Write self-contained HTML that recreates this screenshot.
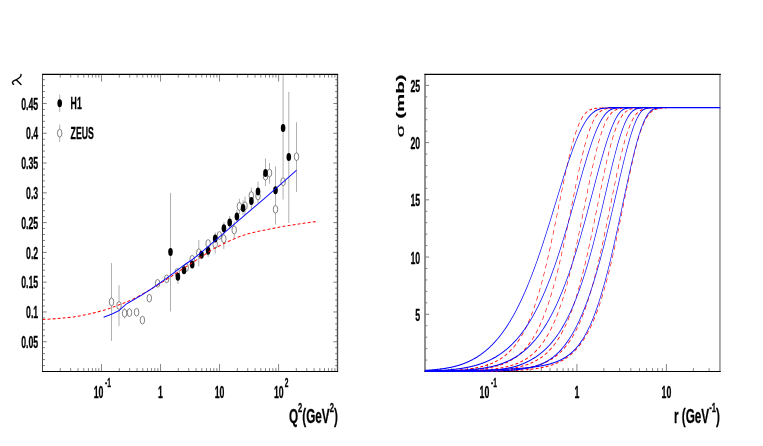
<!DOCTYPE html>
<html><head><meta charset="utf-8"><title>Chart</title>
<style>
html,body{margin:0;padding:0;background:#fff;}
body{width:763px;height:446px;overflow:hidden;}
svg{display:block;will-change:transform;}
text{font-family:"Liberation Sans",sans-serif;fill:#000;stroke:#000;stroke-width:0.3;}
.ty{stroke:#707070;stroke-width:0.9;fill:none;}
.tx{stroke:#333;stroke-width:0.6;fill:none;}
.fr{stroke:#000;stroke-width:1.2;fill:none;}
.eb{stroke:#b0b0b0;stroke-width:1;fill:none;}
.rd{stroke:#ff0000;stroke-width:1.05;fill:none;stroke-dasharray:5.1 3.9;}
.bl{stroke:#0000ff;stroke-width:1.1;fill:none;}
.op{stroke:#333;stroke-width:0.6;fill:#fff;}
.fl{fill:#000;stroke:none;}
</style></head>
<body>
<svg width="763" height="446" viewBox="0 0 763 446">
<rect width="763" height="446" fill="#fff"/>
<g><path d="M42.50 365.54h2.4M337.60 365.54h-2.4" class="ty"/>
<path d="M42.50 359.59h2.4M337.60 359.59h-2.4" class="ty"/>
<path d="M42.50 353.63h2.4M337.60 353.63h-2.4" class="ty"/>
<path d="M42.50 347.68h2.4M337.60 347.68h-2.4" class="ty"/>
<path d="M42.50 341.72h4.2M337.60 341.72h-4.2" class="ty"/>
<path d="M42.50 335.76h2.4M337.60 335.76h-2.4" class="ty"/>
<path d="M42.50 329.81h2.4M337.60 329.81h-2.4" class="ty"/>
<path d="M42.50 323.85h2.4M337.60 323.85h-2.4" class="ty"/>
<path d="M42.50 317.90h2.4M337.60 317.90h-2.4" class="ty"/>
<path d="M42.50 311.94h4.2M337.60 311.94h-4.2" class="ty"/>
<path d="M42.50 305.98h2.4M337.60 305.98h-2.4" class="ty"/>
<path d="M42.50 300.03h2.4M337.60 300.03h-2.4" class="ty"/>
<path d="M42.50 294.07h2.4M337.60 294.07h-2.4" class="ty"/>
<path d="M42.50 288.12h2.4M337.60 288.12h-2.4" class="ty"/>
<path d="M42.50 282.16h4.2M337.60 282.16h-4.2" class="ty"/>
<path d="M42.50 276.20h2.4M337.60 276.20h-2.4" class="ty"/>
<path d="M42.50 270.25h2.4M337.60 270.25h-2.4" class="ty"/>
<path d="M42.50 264.29h2.4M337.60 264.29h-2.4" class="ty"/>
<path d="M42.50 258.34h2.4M337.60 258.34h-2.4" class="ty"/>
<path d="M42.50 252.38h4.2M337.60 252.38h-4.2" class="ty"/>
<path d="M42.50 246.42h2.4M337.60 246.42h-2.4" class="ty"/>
<path d="M42.50 240.47h2.4M337.60 240.47h-2.4" class="ty"/>
<path d="M42.50 234.51h2.4M337.60 234.51h-2.4" class="ty"/>
<path d="M42.50 228.56h2.4M337.60 228.56h-2.4" class="ty"/>
<path d="M42.50 222.60h4.2M337.60 222.60h-4.2" class="ty"/>
<path d="M42.50 216.64h2.4M337.60 216.64h-2.4" class="ty"/>
<path d="M42.50 210.69h2.4M337.60 210.69h-2.4" class="ty"/>
<path d="M42.50 204.73h2.4M337.60 204.73h-2.4" class="ty"/>
<path d="M42.50 198.78h2.4M337.60 198.78h-2.4" class="ty"/>
<path d="M42.50 192.82h4.2M337.60 192.82h-4.2" class="ty"/>
<path d="M42.50 186.86h2.4M337.60 186.86h-2.4" class="ty"/>
<path d="M42.50 180.91h2.4M337.60 180.91h-2.4" class="ty"/>
<path d="M42.50 174.95h2.4M337.60 174.95h-2.4" class="ty"/>
<path d="M42.50 169.00h2.4M337.60 169.00h-2.4" class="ty"/>
<path d="M42.50 163.04h4.2M337.60 163.04h-4.2" class="ty"/>
<path d="M42.50 157.08h2.4M337.60 157.08h-2.4" class="ty"/>
<path d="M42.50 151.13h2.4M337.60 151.13h-2.4" class="ty"/>
<path d="M42.50 145.17h2.4M337.60 145.17h-2.4" class="ty"/>
<path d="M42.50 139.22h2.4M337.60 139.22h-2.4" class="ty"/>
<path d="M42.50 133.26h4.2M337.60 133.26h-4.2" class="ty"/>
<path d="M42.50 127.30h2.4M337.60 127.30h-2.4" class="ty"/>
<path d="M42.50 121.35h2.4M337.60 121.35h-2.4" class="ty"/>
<path d="M42.50 115.39h2.4M337.60 115.39h-2.4" class="ty"/>
<path d="M42.50 109.44h2.4M337.60 109.44h-2.4" class="ty"/>
<path d="M42.50 103.48h4.2M337.60 103.48h-4.2" class="ty"/>
<path d="M42.50 97.52h2.4M337.60 97.52h-2.4" class="ty"/>
<path d="M42.50 91.57h2.4M337.60 91.57h-2.4" class="ty"/>
<path d="M42.50 85.61h2.4M337.60 85.61h-2.4" class="ty"/>
<path d="M42.50 79.66h2.4M337.60 79.66h-2.4" class="ty"/>
<path d="M60.27 371.50v-3.4M60.27 74.20v3.4" class="tx"/>
<path d="M70.66 371.50v-3.4M70.66 74.20v3.4" class="tx"/>
<path d="M78.03 371.50v-3.4M78.03 74.20v3.4" class="tx"/>
<path d="M83.75 371.50v-3.4M83.75 74.20v3.4" class="tx"/>
<path d="M88.43 371.50v-3.4M88.43 74.20v3.4" class="tx"/>
<path d="M92.38 371.50v-3.4M92.38 74.20v3.4" class="tx"/>
<path d="M95.80 371.50v-3.4M95.80 74.20v3.4" class="tx"/>
<path d="M98.82 371.50v-3.4M98.82 74.20v3.4" class="tx"/>
<path d="M101.52 371.50v-7.4M101.52 74.20v7.4" class="tx"/>
<path d="M119.29 371.50v-3.4M119.29 74.20v3.4" class="tx"/>
<path d="M129.68 371.50v-3.4M129.68 74.20v3.4" class="tx"/>
<path d="M137.05 371.50v-3.4M137.05 74.20v3.4" class="tx"/>
<path d="M142.77 371.50v-3.4M142.77 74.20v3.4" class="tx"/>
<path d="M147.45 371.50v-3.4M147.45 74.20v3.4" class="tx"/>
<path d="M151.40 371.50v-3.4M151.40 74.20v3.4" class="tx"/>
<path d="M154.82 371.50v-3.4M154.82 74.20v3.4" class="tx"/>
<path d="M157.84 371.50v-3.4M157.84 74.20v3.4" class="tx"/>
<path d="M160.54 371.50v-7.4M160.54 74.20v7.4" class="tx"/>
<path d="M178.31 371.50v-3.4M178.31 74.20v3.4" class="tx"/>
<path d="M188.70 371.50v-3.4M188.70 74.20v3.4" class="tx"/>
<path d="M196.07 371.50v-3.4M196.07 74.20v3.4" class="tx"/>
<path d="M201.79 371.50v-3.4M201.79 74.20v3.4" class="tx"/>
<path d="M206.47 371.50v-3.4M206.47 74.20v3.4" class="tx"/>
<path d="M210.42 371.50v-3.4M210.42 74.20v3.4" class="tx"/>
<path d="M213.84 371.50v-3.4M213.84 74.20v3.4" class="tx"/>
<path d="M216.86 371.50v-3.4M216.86 74.20v3.4" class="tx"/>
<path d="M219.56 371.50v-7.4M219.56 74.20v7.4" class="tx"/>
<path d="M237.33 371.50v-3.4M237.33 74.20v3.4" class="tx"/>
<path d="M247.72 371.50v-3.4M247.72 74.20v3.4" class="tx"/>
<path d="M255.09 371.50v-3.4M255.09 74.20v3.4" class="tx"/>
<path d="M260.81 371.50v-3.4M260.81 74.20v3.4" class="tx"/>
<path d="M265.49 371.50v-3.4M265.49 74.20v3.4" class="tx"/>
<path d="M269.44 371.50v-3.4M269.44 74.20v3.4" class="tx"/>
<path d="M272.86 371.50v-3.4M272.86 74.20v3.4" class="tx"/>
<path d="M275.88 371.50v-3.4M275.88 74.20v3.4" class="tx"/>
<path d="M278.58 371.50v-7.4M278.58 74.20v7.4" class="tx"/>
<path d="M296.35 371.50v-3.4M296.35 74.20v3.4" class="tx"/>
<path d="M306.74 371.50v-3.4M306.74 74.20v3.4" class="tx"/>
<path d="M314.11 371.50v-3.4M314.11 74.20v3.4" class="tx"/>
<path d="M319.83 371.50v-3.4M319.83 74.20v3.4" class="tx"/>
<path d="M324.51 371.50v-3.4M324.51 74.20v3.4" class="tx"/>
<path d="M328.46 371.50v-3.4M328.46 74.20v3.4" class="tx"/>
<path d="M331.88 371.50v-3.4M331.88 74.20v3.4" class="tx"/>
<path d="M334.90 371.50v-3.4M334.90 74.20v3.4" class="tx"/>
<text transform="translate(38.20,347.92) scale(0.53,1)" font-size="16.5" font-weight="bold" text-anchor="end" >0.05</text>
<text transform="translate(38.20,318.14) scale(0.53,1)" font-size="16.5" font-weight="bold" text-anchor="end" >0.1</text>
<text transform="translate(38.20,288.36) scale(0.53,1)" font-size="16.5" font-weight="bold" text-anchor="end" >0.15</text>
<text transform="translate(38.20,258.58) scale(0.53,1)" font-size="16.5" font-weight="bold" text-anchor="end" >0.2</text>
<text transform="translate(38.20,228.80) scale(0.53,1)" font-size="16.5" font-weight="bold" text-anchor="end" >0.25</text>
<text transform="translate(38.20,199.02) scale(0.53,1)" font-size="16.5" font-weight="bold" text-anchor="end" >0.3</text>
<text transform="translate(38.20,169.24) scale(0.53,1)" font-size="16.5" font-weight="bold" text-anchor="end" >0.35</text>
<text transform="translate(38.20,139.46) scale(0.53,1)" font-size="16.5" font-weight="bold" text-anchor="end" >0.4</text>
<text transform="translate(38.20,109.68) scale(0.53,1)" font-size="16.5" font-weight="bold" text-anchor="end" >0.45</text>
<text transform="translate(98.52,398.40) scale(0.53,1)" font-size="16.5" font-weight="bold" text-anchor="middle" >10</text><text transform="translate(105.12,387.40) scale(0.53,1)" font-size="12.5" font-weight="bold" text-anchor="start" >-1</text>
<text transform="translate(160.54,398.20) scale(0.53,1)" font-size="16.5" font-weight="bold" text-anchor="middle" >1</text>
<text transform="translate(219.56,398.20) scale(0.53,1)" font-size="16.5" font-weight="bold" text-anchor="middle" >10</text>
<text transform="translate(278.78,398.40) scale(0.53,1)" font-size="16.5" font-weight="bold" text-anchor="middle" >10</text><text transform="translate(284.78,387.40) scale(0.53,1)" font-size="12.5" font-weight="bold" text-anchor="start" >2</text>
<text transform="translate(337.8,422.8) scale(0.56,1)" font-size="21" font-weight="bold" text-anchor="end">Q<tspan dy="-11" font-size="13.5">2</tspan><tspan dy="11">(GeV</tspan><tspan dy="-11" font-size="13.5">2</tspan><tspan dy="11">)</tspan></text>
<path d="M13.7 84.3C12.3 83.6 12.1 82.1 13.2 81.2C14.8 80.0 17.0 79.6 18.7 78.3C20.3 77.1 21.4 75.9 21.0 74.5M16.5 79.9L21.0 84.4" stroke="#000" stroke-width="1.4" fill="none" stroke-linecap="round"/>
<path d="M111.50 263.10V340.90" class="eb"/>
<path d="M119.00 285.30V326.10" class="eb"/>
<path d="M124.60 308.00V318.50" class="eb"/>
<path d="M198.80 240.10V266.30" class="eb"/>
<path d="M215.20 237.00V253.50" class="eb"/>
<path d="M223.80 229.00V249.00" class="eb"/>
<path d="M234.20 221.60V238.50" class="eb"/>
<path d="M239.40 198.80V214.00" class="eb"/>
<path d="M245.00 196.50V215.00" class="eb"/>
<path d="M251.30 187.80V203.00" class="eb"/>
<path d="M269.50 163.00V183.50" class="eb"/>
<path d="M296.50 122.30V192.00" class="eb"/>
<path d="M59.70 124.50V142.00" class="eb"/>
<path d="M170.50 192.90V311.50" class="eb"/>
<path d="M177.90 270.00V284.00" class="eb"/>
<path d="M208.10 245.00V257.00" class="eb"/>
<path d="M215.20 232.50V244.50" class="eb"/>
<path d="M223.90 222.00V234.50" class="eb"/>
<path d="M229.70 216.00V229.00" class="eb"/>
<path d="M236.90 210.00V222.50" class="eb"/>
<path d="M243.10 200.40V215.30" class="eb"/>
<path d="M251.40 195.00V209.00" class="eb"/>
<path d="M258.00 181.60V203.50" class="eb"/>
<path d="M265.50 158.50V186.00" class="eb"/>
<path d="M275.50 166.50V224.50" class="eb"/>
<path d="M283.10 74.50V199.60" class="eb"/>
<path d="M288.80 91.80V222.90" class="eb"/>
<path d="M59.70 94.50V112.00" class="eb"/>
<ellipse cx="111.50" cy="301.90" rx="2.25" ry="3.9" class="op"/>
<ellipse cx="119.00" cy="305.50" rx="2.25" ry="3.9" class="op"/>
<ellipse cx="124.60" cy="313.20" rx="2.25" ry="3.9" class="op"/>
<ellipse cx="129.50" cy="312.60" rx="2.25" ry="3.9" class="op"/>
<ellipse cx="136.60" cy="312.20" rx="2.25" ry="3.9" class="op"/>
<ellipse cx="142.40" cy="320.10" rx="2.25" ry="3.9" class="op"/>
<ellipse cx="149.30" cy="298.20" rx="2.25" ry="3.9" class="op"/>
<ellipse cx="157.60" cy="283.30" rx="2.25" ry="3.9" class="op"/>
<ellipse cx="166.70" cy="278.80" rx="2.25" ry="3.9" class="op"/>
<ellipse cx="177.20" cy="272.40" rx="2.25" ry="3.9" class="op"/>
<ellipse cx="186.20" cy="267.70" rx="2.25" ry="3.9" class="op"/>
<ellipse cx="192.20" cy="259.30" rx="2.25" ry="3.9" class="op"/>
<ellipse cx="198.80" cy="252.80" rx="2.25" ry="3.9" class="op"/>
<ellipse cx="208.10" cy="243.50" rx="2.25" ry="3.9" class="op"/>
<ellipse cx="215.20" cy="244.40" rx="2.25" ry="3.9" class="op"/>
<ellipse cx="219.40" cy="235.50" rx="2.25" ry="3.9" class="op"/>
<ellipse cx="223.80" cy="238.90" rx="2.25" ry="3.9" class="op"/>
<ellipse cx="234.20" cy="230.00" rx="2.25" ry="3.9" class="op"/>
<ellipse cx="239.40" cy="206.40" rx="2.25" ry="3.9" class="op"/>
<ellipse cx="245.00" cy="205.80" rx="2.25" ry="3.9" class="op"/>
<ellipse cx="251.30" cy="195.60" rx="2.25" ry="3.9" class="op"/>
<ellipse cx="258.00" cy="196.00" rx="2.25" ry="3.9" class="op"/>
<ellipse cx="265.50" cy="176.20" rx="2.25" ry="3.9" class="op"/>
<ellipse cx="269.50" cy="173.00" rx="2.25" ry="3.9" class="op"/>
<ellipse cx="275.50" cy="209.30" rx="2.25" ry="3.9" class="op"/>
<ellipse cx="283.10" cy="181.70" rx="2.25" ry="3.9" class="op"/>
<ellipse cx="296.50" cy="156.70" rx="2.25" ry="3.9" class="op"/>
<ellipse cx="59.70" cy="133.20" rx="2.25" ry="3.9" class="op"/>
<ellipse cx="170.50" cy="252.10" rx="2.3" ry="4.0" class="fl"/>
<ellipse cx="177.90" cy="276.80" rx="2.3" ry="4.0" class="fl"/>
<ellipse cx="184.00" cy="270.20" rx="2.3" ry="4.0" class="fl"/>
<ellipse cx="192.20" cy="264.60" rx="2.3" ry="4.0" class="fl"/>
<ellipse cx="201.50" cy="254.80" rx="2.3" ry="4.0" class="fl"/>
<ellipse cx="208.10" cy="250.70" rx="2.3" ry="4.0" class="fl"/>
<ellipse cx="215.20" cy="238.50" rx="2.3" ry="4.0" class="fl"/>
<ellipse cx="223.90" cy="228.30" rx="2.3" ry="4.0" class="fl"/>
<ellipse cx="229.70" cy="222.40" rx="2.3" ry="4.0" class="fl"/>
<ellipse cx="236.90" cy="216.40" rx="2.3" ry="4.0" class="fl"/>
<ellipse cx="243.10" cy="208.10" rx="2.3" ry="4.0" class="fl"/>
<ellipse cx="251.40" cy="200.90" rx="2.3" ry="4.0" class="fl"/>
<ellipse cx="258.00" cy="191.60" rx="2.3" ry="4.0" class="fl"/>
<ellipse cx="265.50" cy="173.00" rx="2.3" ry="4.0" class="fl"/>
<ellipse cx="275.50" cy="190.30" rx="2.3" ry="4.0" class="fl"/>
<ellipse cx="283.10" cy="128.00" rx="2.3" ry="4.0" class="fl"/>
<ellipse cx="288.80" cy="156.90" rx="2.3" ry="4.0" class="fl"/>
<ellipse cx="59.70" cy="103.20" rx="2.3" ry="4.0" class="fl"/>
<g transform="scale(0.56,1)"><path d="M76.07 319.50 C80.65 319.33 94.40 318.93 103.57 318.50 C112.74 318.07 121.55 317.68 131.07 316.90 C140.60 316.12 151.16 315.00 160.71 313.80 C170.27 312.60 180.06 311.13 188.39 309.70 C196.73 308.27 202.92 306.85 210.71 305.20 C218.51 303.55 225.65 302.38 235.18 299.80 C244.70 297.22 257.44 293.12 267.86 289.70 C278.27 286.28 288.75 282.48 297.68 279.30 C306.61 276.12 313.01 273.65 321.43 270.60 C329.85 267.55 340.77 263.68 348.21 261.00 C355.65 258.32 361.01 256.38 366.07 254.50 C371.13 252.62 374.35 251.13 378.57 249.70 C382.80 248.27 384.17 247.88 391.43 245.90 C398.69 243.92 412.98 239.90 422.14 237.80 C431.31 235.70 437.92 234.60 446.43 233.30 C454.94 232.00 464.29 231.05 473.21 230.00 C482.14 228.95 489.58 228.03 500.00 227.00 C510.42 225.97 524.70 224.73 535.71 223.80 C546.73 222.87 561.01 221.80 566.07 221.40" class="rd"/>
<path d="M185.00 317.30 L200.00 314.00 L212.86 310.60 L225.54 304.10" class="bl"/>
<path d="M225.54 304.10 C229.61 302.75 242.80 298.42 250.00 296.00 C257.20 293.58 263.42 291.55 268.75 289.60 C274.08 287.65 277.08 286.23 281.96 284.30 C286.85 282.37 292.02 280.45 298.04 278.00 C304.05 275.55 312.68 271.83 318.04 269.60 C323.39 267.37 325.83 266.32 330.18 264.60 C334.52 262.88 339.61 261.17 344.11 259.30 C348.60 257.43 353.48 255.08 357.14 253.40 C360.80 251.72 346.73 258.43 366.07 249.20 C385.42 239.97 445.98 211.15 473.21 198.00 C500.45 184.85 520.09 174.92 529.46 170.30" class="bl"/></g>
<text transform="translate(70.60,109.20) scale(0.53,1)" font-size="16.5" font-weight="bold" text-anchor="start" >H1</text>
<text transform="translate(70.60,139.20) scale(0.53,1)" font-size="16.5" font-weight="bold" text-anchor="start" >ZEUS</text>
<path d="M42.50 74.20V371.50" stroke="#333" stroke-width="0.9"/><path d="M337.50 74.20V371.50" stroke="#4a4a4a" stroke-width="1.35"/><path d="M42.00 74.45H338.10M42.00 371.50H338.10" class="fr"/>
<path d="M424.90 360.06h2.4" class="ty"/>
<path d="M424.90 348.61h2.4" class="ty"/>
<path d="M424.90 337.17h2.4" class="ty"/>
<path d="M424.90 325.72h2.4" class="ty"/>
<path d="M424.90 314.28h4.2" class="ty"/>
<path d="M424.90 302.84h2.4" class="ty"/>
<path d="M424.90 291.39h2.4" class="ty"/>
<path d="M424.90 279.95h2.4" class="ty"/>
<path d="M424.90 268.50h2.4" class="ty"/>
<path d="M424.90 257.06h4.2" class="ty"/>
<path d="M424.90 245.62h2.4" class="ty"/>
<path d="M424.90 234.17h2.4" class="ty"/>
<path d="M424.90 222.73h2.4" class="ty"/>
<path d="M424.90 211.28h2.4" class="ty"/>
<path d="M424.90 199.84h4.2" class="ty"/>
<path d="M424.90 188.40h2.4" class="ty"/>
<path d="M424.90 176.95h2.4" class="ty"/>
<path d="M424.90 165.51h2.4" class="ty"/>
<path d="M424.90 154.06h2.4" class="ty"/>
<path d="M424.90 142.62h4.2" class="ty"/>
<path d="M424.90 131.18h2.4" class="ty"/>
<path d="M424.90 119.73h2.4" class="ty"/>
<path d="M424.90 108.29h2.4" class="ty"/>
<path d="M424.90 96.84h2.4" class="ty"/>
<path d="M424.90 85.40h4.2" class="ty"/>
<path d="M440.66 371.50v-3.4" class="tx"/>
<path d="M451.84 371.50v-3.4" class="tx"/>
<path d="M460.51 371.50v-3.4" class="tx"/>
<path d="M467.60 371.50v-3.4" class="tx"/>
<path d="M473.59 371.50v-3.4" class="tx"/>
<path d="M478.78 371.50v-3.4" class="tx"/>
<path d="M483.35 371.50v-3.4" class="tx"/>
<path d="M487.45 371.50v-7.4" class="tx"/>
<path d="M514.39 371.50v-3.4" class="tx"/>
<path d="M530.15 371.50v-3.4" class="tx"/>
<path d="M541.33 371.50v-3.4" class="tx"/>
<path d="M550.00 371.50v-3.4" class="tx"/>
<path d="M557.08 371.50v-3.4" class="tx"/>
<path d="M563.07 371.50v-3.4" class="tx"/>
<path d="M568.26 371.50v-3.4" class="tx"/>
<path d="M572.84 371.50v-3.4" class="tx"/>
<path d="M576.94 371.50v-7.4" class="tx"/>
<path d="M603.87 371.50v-3.4" class="tx"/>
<path d="M619.63 371.50v-3.4" class="tx"/>
<path d="M630.81 371.50v-3.4" class="tx"/>
<path d="M639.48 371.50v-3.4" class="tx"/>
<path d="M646.57 371.50v-3.4" class="tx"/>
<path d="M652.56 371.50v-3.4" class="tx"/>
<path d="M657.75 371.50v-3.4" class="tx"/>
<path d="M662.33 371.50v-3.4" class="tx"/>
<path d="M666.42 371.50v-7.4" class="tx"/>
<path d="M693.36 371.50v-3.4" class="tx"/>
<path d="M709.12 371.50v-3.4" class="tx"/>
<text transform="translate(420.20,320.78) scale(0.53,1)" font-size="16.5" font-weight="bold" text-anchor="end" >5</text>
<text transform="translate(420.20,263.56) scale(0.53,1)" font-size="16.5" font-weight="bold" text-anchor="end" >10</text>
<text transform="translate(420.20,206.34) scale(0.53,1)" font-size="16.5" font-weight="bold" text-anchor="end" >15</text>
<text transform="translate(420.20,149.12) scale(0.53,1)" font-size="16.5" font-weight="bold" text-anchor="end" >20</text>
<text transform="translate(420.20,91.90) scale(0.53,1)" font-size="16.5" font-weight="bold" text-anchor="end" >25</text>
<text transform="translate(484.45,398.40) scale(0.53,1)" font-size="16.5" font-weight="bold" text-anchor="middle" >10</text><text transform="translate(491.05,387.40) scale(0.53,1)" font-size="12.5" font-weight="bold" text-anchor="start" >-1</text>
<text transform="translate(576.94,398.20) scale(0.53,1)" font-size="16.5" font-weight="bold" text-anchor="middle" >1</text>
<text transform="translate(666.42,398.20) scale(0.53,1)" font-size="16.5" font-weight="bold" text-anchor="middle" >10</text>
<text transform="translate(719.8,422.8) scale(0.56,1)" font-size="21" font-weight="bold" text-anchor="end">r (GeV<tspan dy="-11" font-size="13.5">-1</tspan><tspan dy="11">)</tspan></text>
<text transform="translate(403.6,137.2) scale(0.53,1) rotate(-90)" font-size="20.5" font-weight="bold"><tspan font-weight="normal">σ</tspan> (mb)</text>
<path d="M425.00 74.20V371.50" stroke="#7e7e7e" stroke-width="1.7"/><path d="M719.95 74.20V371.50" stroke="#a6a6a6" stroke-width="1.9"/><path d="M424.40 74.45H720.80M424.40 371.50H720.80" class="fr"/>
<g transform="scale(0.56,1)">
<path d="M1073.93 107.94 L1089.72 107.94" class="rd"/>
<path d="M758.75 371.49 L760.07 371.49 L761.39 371.49 L762.71 371.49 L764.02 371.49 L765.34 371.49 L766.66 371.49 L767.98 371.49 L769.30 371.49 L770.62 371.49 L771.94 371.49 L773.26 371.49 L774.57 371.48 L775.89 371.48 L777.21 371.48 L778.53 371.48 L779.85 371.48 L781.17 371.48 L782.49 371.48 L783.81 371.48 L785.12 371.48 L786.44 371.48 L787.76 371.48 L789.08 371.48 L790.40 371.48 L791.72 371.48 L793.04 371.47 L794.36 371.47 L795.67 371.47 L796.99 371.47 L798.31 371.47 L799.63 371.47 L800.95 371.47 L802.27 371.47 L803.59 371.46 L804.91 371.46 L806.22 371.46 L807.54 371.46 L808.86 371.46 L810.18 371.46 L811.50 371.46 L812.82 371.45 L814.14 371.45 L815.46 371.45 L816.77 371.45 L818.09 371.45 L819.41 371.44 L820.73 371.44 L822.05 371.44 L823.37 371.44 L824.69 371.44 L826.01 371.43 L827.32 371.43 L828.64 371.43 L829.96 371.42 L831.28 371.42 L832.60 371.42 L833.92 371.42 L835.24 371.41 L836.56 371.41 L837.87 371.41 L839.19 371.40 L840.51 371.40 L841.83 371.39 L843.15 371.39 L844.47 371.39 L845.79 371.38 L847.11 371.38 L848.42 371.37 L849.74 371.37 L851.06 371.36 L852.38 371.36 L853.70 371.35 L855.02 371.35 L856.34 371.34 L857.66 371.33 L858.97 371.33 L860.29 371.32 L861.61 371.31 L862.93 371.31 L864.25 371.30 L865.57 371.29 L866.89 371.28 L868.21 371.27 L869.52 371.27 L870.84 371.26 L872.16 371.25 L873.48 371.24 L874.80 371.23 L876.12 371.22 L877.44 371.21 L878.76 371.19 L880.07 371.18 L881.39 371.17 L882.71 371.16 L884.03 371.14 L885.35 371.13 L886.67 371.12 L887.99 371.10 L889.31 371.09 L890.62 371.07 L891.94 371.05 L893.26 371.04 L894.58 371.02 L895.90 371.00 L897.22 370.98 L898.54 370.96 L899.86 370.94 L901.17 370.92 L902.49 370.89 L903.81 370.87 L905.13 370.85 L906.45 370.82 L907.77 370.79 L909.09 370.77 L910.41 370.74 L911.72 370.71 L913.04 370.68 L914.36 370.65 L915.68 370.61 L917.00 370.58 L918.32 370.54 L919.64 370.51 L920.96 370.47 L922.27 370.43 L923.59 370.39 L924.91 370.34 L926.23 370.30 L927.55 370.25 L928.87 370.21 L930.19 370.16 L931.51 370.10 L932.82 370.05 L934.14 369.99 L935.46 369.94 L936.78 369.88 L938.10 369.81 L939.42 369.75 L940.74 369.68 L942.06 369.61 L943.37 369.54 L944.69 369.46 L946.01 369.38 L947.33 369.30 L948.65 369.22 L949.97 369.13 L951.29 369.04 L952.61 368.94 L953.92 368.84 L955.24 368.74 L956.56 368.63 L957.88 368.52 L959.20 368.41 L960.52 368.29 L961.84 368.17 L963.16 368.04 L964.47 367.90 L965.79 367.77 L967.11 367.62 L968.43 367.47 L969.75 367.32 L971.07 367.16 L972.39 366.99 L973.71 366.82 L975.02 366.64 L976.34 366.45 L977.66 366.26 L978.98 366.06 L980.30 365.85 L981.62 365.63 L982.94 365.41 L984.26 365.18 L985.57 364.93 L986.89 364.68 L988.21 364.42 L989.53 364.15 L990.85 363.87 L992.17 363.58 L993.49 363.28 L994.81 362.96 L996.12 362.64 L997.44 362.30 L998.76 361.95 L1000.08 361.59 L1001.40 361.21 L1002.72 360.82 L1004.04 360.42 L1005.36 360.00 L1006.67 359.56 L1007.99 359.11 L1009.31 358.64 L1010.63 358.16 L1011.95 357.66 L1013.27 357.13 L1014.59 356.59 L1015.91 356.03 L1017.22 355.45 L1018.54 354.85 L1019.86 354.23 L1021.18 353.58 L1022.50 352.91 L1023.82 352.22 L1025.14 351.50 L1026.46 350.76 L1027.77 349.99 L1029.09 349.19 L1030.41 348.37 L1031.73 347.51 L1033.05 346.63 L1034.37 345.72 L1035.69 344.77 L1037.01 343.79 L1038.32 342.78 L1039.64 341.73 L1040.96 340.65 L1042.28 339.53 L1043.60 338.37 L1044.92 337.18 L1046.24 335.94 L1047.56 334.66 L1048.88 333.34 L1050.19 331.98 L1051.51 330.58 L1052.83 329.13 L1054.15 327.63 L1055.47 326.09 L1056.79 324.49 L1058.11 322.85 L1059.42 321.16 L1060.74 319.42 L1062.06 317.62 L1063.38 315.77 L1064.70 313.87 L1066.02 311.91 L1067.34 309.90 L1068.66 307.82 L1069.97 305.69 L1071.29 303.51 L1072.61 301.26 L1073.93 298.95 L1075.25 296.58 L1076.57 294.16 L1077.89 291.67 L1079.21 289.12 L1080.52 286.51 L1081.84 283.83 L1083.16 281.10 L1084.48 278.30 L1085.80 275.45 L1087.12 272.53 L1088.44 269.56 L1089.76 266.53 L1091.07 263.44 L1092.39 260.29 L1093.71 257.09 L1095.03 253.84 L1096.35 250.53 L1097.67 247.18 L1098.99 243.78 L1100.31 240.34 L1101.62 236.85 L1102.94 233.33 L1104.26 229.77 L1105.58 226.19 L1106.90 222.57 L1108.22 218.93 L1109.54 215.28 L1110.86 211.61 L1112.17 207.93 L1113.49 204.24 L1114.81 200.56 L1116.13 196.88 L1117.45 193.22 L1118.77 189.57 L1120.09 185.95 L1121.41 182.35 L1122.72 178.80 L1124.04 175.28 L1125.36 171.81 L1126.68 168.40 L1128.00 165.05 L1129.32 161.77 L1130.64 158.55 L1131.96 155.42 L1133.27 152.37 L1134.59 149.41 L1135.91 146.54 L1137.23 143.77 L1138.55 141.11 L1139.87 138.55 L1141.19 136.10 L1142.51 133.77 L1143.82 131.54 L1145.14 129.44 L1146.46 127.45 L1147.78 125.58 L1149.10 123.82 L1150.42 122.19 L1151.74 120.66 L1153.06 119.26 L1154.37 117.96 L1155.69 116.77 L1157.01 115.68 L1158.33 114.69 L1159.65 113.80 L1160.97 112.99 L1162.29 112.28 L1163.61 111.64 L1164.92 111.08 L1166.24 110.58 L1167.56 110.15 L1168.88 109.78 L1170.20 109.46 L1171.52 109.18 L1172.84 108.95 L1174.16 108.76 L1175.47 108.59 L1176.79 108.46 L1178.11 108.35 L1179.43 108.26 L1180.75 108.19 L1182.07 108.13 L1183.39 108.08 L1184.71 108.05 L1186.02 108.02 L1187.34 108.00 L1188.66 107.99 L1189.98 107.97" class="rd"/>
<path d="M758.75 371.48 L760.07 371.48 L761.39 371.48 L762.71 371.48 L764.02 371.48 L765.34 371.48 L766.66 371.48 L767.98 371.48 L769.30 371.47 L770.62 371.47 L771.94 371.47 L773.26 371.47 L774.57 371.47 L775.89 371.47 L777.21 371.47 L778.53 371.47 L779.85 371.47 L781.17 371.46 L782.49 371.46 L783.81 371.46 L785.12 371.46 L786.44 371.46 L787.76 371.46 L789.08 371.46 L790.40 371.45 L791.72 371.45 L793.04 371.45 L794.36 371.45 L795.67 371.45 L796.99 371.44 L798.31 371.44 L799.63 371.44 L800.95 371.44 L802.27 371.43 L803.59 371.43 L804.91 371.43 L806.22 371.43 L807.54 371.42 L808.86 371.42 L810.18 371.42 L811.50 371.41 L812.82 371.41 L814.14 371.41 L815.46 371.40 L816.77 371.40 L818.09 371.40 L819.41 371.39 L820.73 371.39 L822.05 371.38 L823.37 371.38 L824.69 371.37 L826.01 371.37 L827.32 371.37 L828.64 371.36 L829.96 371.35 L831.28 371.35 L832.60 371.34 L833.92 371.34 L835.24 371.33 L836.56 371.32 L837.87 371.32 L839.19 371.31 L840.51 371.30 L841.83 371.30 L843.15 371.29 L844.47 371.28 L845.79 371.27 L847.11 371.26 L848.42 371.25 L849.74 371.24 L851.06 371.23 L852.38 371.22 L853.70 371.21 L855.02 371.20 L856.34 371.19 L857.66 371.18 L858.97 371.16 L860.29 371.15 L861.61 371.14 L862.93 371.12 L864.25 371.11 L865.57 371.09 L866.89 371.08 L868.21 371.06 L869.52 371.05 L870.84 371.03 L872.16 371.01 L873.48 370.99 L874.80 370.97 L876.12 370.95 L877.44 370.93 L878.76 370.91 L880.07 370.88 L881.39 370.86 L882.71 370.83 L884.03 370.81 L885.35 370.78 L886.67 370.75 L887.99 370.73 L889.31 370.70 L890.62 370.66 L891.94 370.63 L893.26 370.60 L894.58 370.56 L895.90 370.53 L897.22 370.49 L898.54 370.45 L899.86 370.41 L901.17 370.37 L902.49 370.33 L903.81 370.28 L905.13 370.23 L906.45 370.18 L907.77 370.13 L909.09 370.08 L910.41 370.02 L911.72 369.97 L913.04 369.91 L914.36 369.85 L915.68 369.78 L917.00 369.72 L918.32 369.65 L919.64 369.58 L920.96 369.50 L922.27 369.43 L923.59 369.35 L924.91 369.26 L926.23 369.18 L927.55 369.09 L928.87 368.99 L930.19 368.90 L931.51 368.80 L932.82 368.69 L934.14 368.58 L935.46 368.47 L936.78 368.36 L938.10 368.23 L939.42 368.11 L940.74 367.98 L942.06 367.84 L943.37 367.70 L944.69 367.56 L946.01 367.40 L947.33 367.25 L948.65 367.08 L949.97 366.91 L951.29 366.74 L952.61 366.56 L953.92 366.37 L955.24 366.17 L956.56 365.97 L957.88 365.75 L959.20 365.53 L960.52 365.30 L961.84 365.07 L963.16 364.82 L964.47 364.57 L965.79 364.30 L967.11 364.03 L968.43 363.74 L969.75 363.45 L971.07 363.14 L972.39 362.82 L973.71 362.49 L975.02 362.15 L976.34 361.79 L977.66 361.42 L978.98 361.04 L980.30 360.64 L981.62 360.23 L982.94 359.81 L984.26 359.36 L985.57 358.90 L986.89 358.43 L988.21 357.94 L989.53 357.42 L990.85 356.89 L992.17 356.35 L993.49 355.78 L994.81 355.19 L996.12 354.57 L997.44 353.94 L998.76 353.29 L1000.08 352.61 L1001.40 351.90 L1002.72 351.17 L1004.04 350.42 L1005.36 349.64 L1006.67 348.83 L1007.99 347.99 L1009.31 347.12 L1010.63 346.22 L1011.95 345.29 L1013.27 344.33 L1014.59 343.34 L1015.91 342.31 L1017.22 341.25 L1018.54 340.15 L1019.86 339.01 L1021.18 337.84 L1022.50 336.63 L1023.82 335.37 L1025.14 334.08 L1026.46 332.74 L1027.77 331.36 L1029.09 329.93 L1030.41 328.46 L1031.73 326.94 L1033.05 325.38 L1034.37 323.76 L1035.69 322.10 L1037.01 320.38 L1038.32 318.62 L1039.64 316.80 L1040.96 314.92 L1042.28 313.00 L1043.60 311.01 L1044.92 308.97 L1046.24 306.87 L1047.56 304.72 L1048.88 302.50 L1050.19 300.23 L1051.51 297.90 L1052.83 295.50 L1054.15 293.05 L1055.47 290.53 L1056.79 287.95 L1058.11 285.31 L1059.42 282.61 L1060.74 279.85 L1062.06 277.03 L1063.38 274.15 L1064.70 271.20 L1066.02 268.20 L1067.34 265.15 L1068.66 262.03 L1069.97 258.86 L1071.29 255.63 L1072.61 252.36 L1073.93 249.03 L1075.25 245.66 L1076.57 242.24 L1077.89 238.78 L1079.21 235.28 L1080.52 231.74 L1081.84 228.17 L1083.16 224.57 L1084.48 220.94 L1085.80 217.29 L1087.12 213.63 L1088.44 209.95 L1089.76 206.27 L1091.07 202.59 L1092.39 198.91 L1093.71 195.23 L1095.03 191.58 L1096.35 187.94 L1097.67 184.33 L1098.99 180.75 L1100.31 177.21 L1101.62 173.72 L1102.94 170.27 L1104.26 166.89 L1105.58 163.57 L1106.90 160.31 L1108.22 157.14 L1109.54 154.04 L1110.86 151.03 L1112.17 148.11 L1113.49 145.29 L1114.81 142.56 L1116.13 139.95 L1117.45 137.44 L1118.77 135.04 L1120.09 132.75 L1121.41 130.58 L1122.72 128.53 L1124.04 126.59 L1125.36 124.78 L1126.68 123.07 L1128.00 121.49 L1129.32 120.02 L1130.64 118.66 L1131.96 117.41 L1133.27 116.26 L1134.59 115.22 L1135.91 114.28 L1137.23 113.43 L1138.55 112.66 L1139.87 111.98 L1141.19 111.38 L1142.51 110.85 L1143.82 110.38 L1145.14 109.98 L1146.46 109.63 L1147.78 109.33 L1149.10 109.07 L1150.42 108.86 L1151.74 108.68 L1153.06 108.53 L1154.37 108.41 L1155.69 108.31 L1157.01 108.22 L1158.33 108.16 L1159.65 108.11 L1160.97 108.07 L1162.29 108.04 L1163.61 108.01 L1164.92 107.99 L1166.24 107.98" class="rd"/>
<path d="M758.75 371.46 L760.07 371.46 L761.39 371.46 L762.71 371.46 L764.02 371.46 L765.34 371.46 L766.66 371.45 L767.98 371.45 L769.30 371.45 L770.62 371.45 L771.94 371.45 L773.26 371.44 L774.57 371.44 L775.89 371.44 L777.21 371.44 L778.53 371.44 L779.85 371.43 L781.17 371.43 L782.49 371.43 L783.81 371.43 L785.12 371.42 L786.44 371.42 L787.76 371.42 L789.08 371.41 L790.40 371.41 L791.72 371.41 L793.04 371.40 L794.36 371.40 L795.67 371.39 L796.99 371.39 L798.31 371.39 L799.63 371.38 L800.95 371.38 L802.27 371.37 L803.59 371.37 L804.91 371.36 L806.22 371.36 L807.54 371.35 L808.86 371.35 L810.18 371.34 L811.50 371.33 L812.82 371.33 L814.14 371.32 L815.46 371.31 L816.77 371.31 L818.09 371.30 L819.41 371.29 L820.73 371.28 L822.05 371.28 L823.37 371.27 L824.69 371.26 L826.01 371.25 L827.32 371.24 L828.64 371.23 L829.96 371.22 L831.28 371.21 L832.60 371.20 L833.92 371.18 L835.24 371.17 L836.56 371.16 L837.87 371.15 L839.19 371.13 L840.51 371.12 L841.83 371.10 L843.15 371.09 L844.47 371.07 L845.79 371.05 L847.11 371.04 L848.42 371.02 L849.74 371.00 L851.06 370.98 L852.38 370.96 L853.70 370.94 L855.02 370.92 L856.34 370.90 L857.66 370.87 L858.97 370.85 L860.29 370.82 L861.61 370.80 L862.93 370.77 L864.25 370.74 L865.57 370.71 L866.89 370.68 L868.21 370.65 L869.52 370.62 L870.84 370.58 L872.16 370.55 L873.48 370.51 L874.80 370.47 L876.12 370.43 L877.44 370.39 L878.76 370.35 L880.07 370.30 L881.39 370.26 L882.71 370.21 L884.03 370.16 L885.35 370.11 L886.67 370.06 L887.99 370.00 L889.31 369.94 L890.62 369.88 L891.94 369.82 L893.26 369.75 L894.58 369.69 L895.90 369.62 L897.22 369.54 L898.54 369.47 L899.86 369.39 L901.17 369.31 L902.49 369.22 L903.81 369.14 L905.13 369.05 L906.45 368.95 L907.77 368.85 L909.09 368.75 L910.41 368.64 L911.72 368.53 L913.04 368.42 L914.36 368.30 L915.68 368.18 L917.00 368.05 L918.32 367.92 L919.64 367.78 L920.96 367.64 L922.27 367.49 L923.59 367.33 L924.91 367.17 L926.23 367.01 L927.55 366.84 L928.87 366.66 L930.19 366.47 L931.51 366.28 L932.82 366.08 L934.14 365.87 L935.46 365.66 L936.78 365.43 L938.10 365.20 L939.42 364.96 L940.74 364.71 L942.06 364.45 L943.37 364.18 L944.69 363.90 L946.01 363.61 L947.33 363.31 L948.65 363.00 L949.97 362.67 L951.29 362.34 L952.61 361.99 L953.92 361.63 L955.24 361.25 L956.56 360.86 L957.88 360.46 L959.20 360.04 L960.52 359.61 L961.84 359.16 L963.16 358.69 L964.47 358.21 L965.79 357.71 L967.11 357.19 L968.43 356.65 L969.75 356.09 L971.07 355.51 L972.39 354.91 L973.71 354.29 L975.02 353.65 L976.34 352.98 L977.66 352.29 L978.98 351.58 L980.30 350.84 L981.62 350.07 L982.94 349.28 L984.26 348.45 L985.57 347.60 L986.89 346.72 L988.21 345.81 L989.53 344.87 L990.85 343.89 L992.17 342.88 L993.49 341.84 L994.81 340.76 L996.12 339.64 L997.44 338.49 L998.76 337.30 L1000.08 336.07 L1001.40 334.79 L1002.72 333.48 L1004.04 332.12 L1005.36 330.72 L1006.67 329.28 L1007.99 327.79 L1009.31 326.25 L1010.63 324.66 L1011.95 323.02 L1013.27 321.34 L1014.59 319.60 L1015.91 317.81 L1017.22 315.96 L1018.54 314.07 L1019.86 312.11 L1021.18 310.10 L1022.50 308.04 L1023.82 305.91 L1025.14 303.73 L1026.46 301.49 L1027.77 299.19 L1029.09 296.83 L1030.41 294.41 L1031.73 291.92 L1033.05 289.38 L1034.37 286.77 L1035.69 284.11 L1037.01 281.38 L1038.32 278.59 L1039.64 275.74 L1040.96 272.83 L1042.28 269.86 L1043.60 266.84 L1044.92 263.75 L1046.24 260.61 L1047.56 257.42 L1048.88 254.17 L1050.19 250.87 L1051.51 247.52 L1052.83 244.13 L1054.15 240.69 L1055.47 237.21 L1056.79 233.69 L1058.11 230.14 L1059.42 226.55 L1060.74 222.94 L1062.06 219.30 L1063.38 215.65 L1064.70 211.98 L1066.02 208.30 L1067.34 204.62 L1068.66 200.93 L1069.97 197.26 L1071.29 193.59 L1072.61 189.94 L1073.93 186.31 L1075.25 182.72 L1076.57 179.16 L1077.89 175.64 L1079.21 172.16 L1080.52 168.75 L1081.84 165.39 L1083.16 162.10 L1084.48 158.88 L1085.80 155.74 L1087.12 152.68 L1088.44 149.71 L1089.76 146.83 L1091.07 144.05 L1092.39 141.38 L1093.71 138.81 L1095.03 136.35 L1096.35 134.00 L1097.67 131.76 L1098.99 129.65 L1100.31 127.65 L1101.62 125.76 L1102.94 124.00 L1104.26 122.35 L1105.58 120.81 L1106.90 119.39 L1108.22 118.08 L1109.54 116.88 L1110.86 115.78 L1112.17 114.79 L1113.49 113.88 L1114.81 113.07 L1116.13 112.35 L1117.45 111.70 L1118.77 111.13 L1120.09 110.63 L1121.41 110.19 L1122.72 109.81 L1124.04 109.49 L1125.36 109.21 L1126.68 108.97 L1128.00 108.77 L1129.32 108.61 L1130.64 108.47 L1131.96 108.36 L1133.27 108.27 L1134.59 108.19 L1135.91 108.13 L1137.23 108.09 L1138.55 108.05 L1139.87 108.02 L1141.19 108.00 L1142.51 107.99 L1143.82 107.97" class="rd"/>
<path d="M758.75 371.43 L760.07 371.43 L761.39 371.42 L762.71 371.42 L764.02 371.42 L765.34 371.41 L766.66 371.41 L767.98 371.41 L769.30 371.40 L770.62 371.40 L771.94 371.40 L773.26 371.39 L774.57 371.39 L775.89 371.38 L777.21 371.38 L778.53 371.38 L779.85 371.37 L781.17 371.37 L782.49 371.36 L783.81 371.35 L785.12 371.35 L786.44 371.34 L787.76 371.34 L789.08 371.33 L790.40 371.32 L791.72 371.32 L793.04 371.31 L794.36 371.30 L795.67 371.30 L796.99 371.29 L798.31 371.28 L799.63 371.27 L800.95 371.26 L802.27 371.25 L803.59 371.24 L804.91 371.23 L806.22 371.22 L807.54 371.21 L808.86 371.20 L810.18 371.19 L811.50 371.18 L812.82 371.17 L814.14 371.15 L815.46 371.14 L816.77 371.13 L818.09 371.11 L819.41 371.10 L820.73 371.08 L822.05 371.06 L823.37 371.05 L824.69 371.03 L826.01 371.01 L827.32 370.99 L828.64 370.97 L829.96 370.95 L831.28 370.93 L832.60 370.91 L833.92 370.89 L835.24 370.86 L836.56 370.84 L837.87 370.81 L839.19 370.79 L840.51 370.76 L841.83 370.73 L843.15 370.70 L844.47 370.67 L845.79 370.64 L847.11 370.60 L848.42 370.57 L849.74 370.53 L851.06 370.49 L852.38 370.46 L853.70 370.42 L855.02 370.37 L856.34 370.33 L857.66 370.28 L858.97 370.24 L860.29 370.19 L861.61 370.14 L862.93 370.09 L864.25 370.03 L865.57 369.97 L866.89 369.91 L868.21 369.85 L869.52 369.79 L870.84 369.72 L872.16 369.66 L873.48 369.58 L874.80 369.51 L876.12 369.43 L877.44 369.35 L878.76 369.27 L880.07 369.19 L881.39 369.10 L882.71 369.00 L884.03 368.91 L885.35 368.81 L886.67 368.70 L887.99 368.60 L889.31 368.48 L890.62 368.37 L891.94 368.25 L893.26 368.12 L894.58 367.99 L895.90 367.86 L897.22 367.72 L898.54 367.57 L899.86 367.42 L901.17 367.26 L902.49 367.10 L903.81 366.93 L905.13 366.76 L906.45 366.57 L907.77 366.39 L909.09 366.19 L910.41 365.99 L911.72 365.77 L913.04 365.56 L914.36 365.33 L915.68 365.09 L917.00 364.85 L918.32 364.59 L919.64 364.33 L920.96 364.05 L922.27 363.77 L923.59 363.48 L924.91 363.17 L926.23 362.85 L927.55 362.52 L928.87 362.18 L930.19 361.83 L931.51 361.46 L932.82 361.08 L934.14 360.68 L935.46 360.27 L936.78 359.85 L938.10 359.41 L939.42 358.95 L940.74 358.48 L942.06 357.99 L943.37 357.48 L944.69 356.95 L946.01 356.40 L947.33 355.83 L948.65 355.25 L949.97 354.64 L951.29 354.01 L952.61 353.35 L953.92 352.68 L955.24 351.97 L956.56 351.25 L957.88 350.50 L959.20 349.72 L960.52 348.91 L961.84 348.08 L963.16 347.21 L964.47 346.32 L965.79 345.39 L967.11 344.43 L968.43 343.44 L969.75 342.42 L971.07 341.36 L972.39 340.26 L973.71 339.13 L975.02 337.96 L976.34 336.75 L977.66 335.50 L978.98 334.21 L980.30 332.88 L981.62 331.50 L982.94 330.08 L984.26 328.61 L985.57 327.10 L986.89 325.54 L988.21 323.93 L989.53 322.27 L990.85 320.56 L992.17 318.80 L993.49 316.99 L994.81 315.12 L996.12 313.20 L997.44 311.22 L998.76 309.18 L1000.08 307.09 L1001.40 304.94 L1002.72 302.73 L1004.04 300.46 L1005.36 298.14 L1006.67 295.75 L1007.99 293.30 L1009.31 290.79 L1010.63 288.22 L1011.95 285.58 L1013.27 282.89 L1014.59 280.13 L1015.91 277.32 L1017.22 274.44 L1018.54 271.51 L1019.86 268.51 L1021.18 265.46 L1022.50 262.35 L1023.82 259.18 L1025.14 255.97 L1026.46 252.69 L1027.77 249.37 L1029.09 246.00 L1030.41 242.59 L1031.73 239.13 L1033.05 235.63 L1034.37 232.10 L1035.69 228.53 L1037.01 224.93 L1038.32 221.31 L1039.64 217.67 L1040.96 214.00 L1042.28 210.33 L1043.60 206.65 L1044.92 202.96 L1046.24 199.28 L1047.56 195.61 L1048.88 191.95 L1050.19 188.31 L1051.51 184.70 L1052.83 181.11 L1054.15 177.57 L1055.47 174.07 L1056.79 170.62 L1058.11 167.23 L1059.42 163.90 L1060.74 160.64 L1062.06 157.46 L1063.38 154.35 L1064.70 151.33 L1066.02 148.40 L1067.34 145.57 L1068.66 142.84 L1069.97 140.21 L1071.29 137.69 L1072.61 135.28 L1073.93 132.98 L1075.25 130.80 L1076.57 128.73 L1077.89 126.79 L1079.21 124.96 L1080.52 123.24 L1081.84 121.64 L1083.16 120.16 L1084.48 118.79 L1085.80 117.53 L1087.12 116.38 L1088.44 115.32 L1089.76 114.37 L1091.07 113.51 L1092.39 112.74 L1093.71 112.05 L1095.03 111.44 L1096.35 110.90 L1097.67 110.43 L1098.99 110.02 L1100.31 109.66 L1101.62 109.36 L1102.94 109.10 L1104.26 108.88 L1105.58 108.70 L1106.90 108.54 L1108.22 108.42 L1109.54 108.31 L1110.86 108.23 L1112.17 108.17 L1113.49 108.11 L1114.81 108.07 L1116.13 108.04 L1117.45 108.01 L1118.77 107.99 L1120.09 107.98" class="rd"/>
<path d="M758.75 371.36 L760.07 371.36 L761.39 371.35 L762.71 371.35 L764.02 371.34 L765.34 371.33 L766.66 371.33 L767.98 371.32 L769.30 371.31 L770.62 371.31 L771.94 371.30 L773.26 371.29 L774.57 371.28 L775.89 371.28 L777.21 371.27 L778.53 371.26 L779.85 371.25 L781.17 371.24 L782.49 371.23 L783.81 371.22 L785.12 371.21 L786.44 371.20 L787.76 371.18 L789.08 371.17 L790.40 371.16 L791.72 371.15 L793.04 371.13 L794.36 371.12 L795.67 371.10 L796.99 371.09 L798.31 371.07 L799.63 371.06 L800.95 371.04 L802.27 371.02 L803.59 371.00 L804.91 370.98 L806.22 370.96 L807.54 370.94 L808.86 370.92 L810.18 370.90 L811.50 370.88 L812.82 370.85 L814.14 370.83 L815.46 370.80 L816.77 370.77 L818.09 370.74 L819.41 370.72 L820.73 370.69 L822.05 370.65 L823.37 370.62 L824.69 370.59 L826.01 370.55 L827.32 370.52 L828.64 370.48 L829.96 370.44 L831.28 370.40 L832.60 370.35 L833.92 370.31 L835.24 370.26 L836.56 370.22 L837.87 370.17 L839.19 370.11 L840.51 370.06 L841.83 370.01 L843.15 369.95 L844.47 369.89 L845.79 369.83 L847.11 369.76 L848.42 369.69 L849.74 369.62 L851.06 369.55 L852.38 369.48 L853.70 369.40 L855.02 369.32 L856.34 369.23 L857.66 369.15 L858.97 369.05 L860.29 368.96 L861.61 368.86 L862.93 368.76 L864.25 368.66 L865.57 368.55 L866.89 368.43 L868.21 368.31 L869.52 368.19 L870.84 368.06 L872.16 367.93 L873.48 367.79 L874.80 367.65 L876.12 367.50 L877.44 367.35 L878.76 367.19 L880.07 367.03 L881.39 366.85 L882.71 366.68 L884.03 366.49 L885.35 366.30 L886.67 366.10 L887.99 365.89 L889.31 365.68 L890.62 365.45 L891.94 365.22 L893.26 364.98 L894.58 364.73 L895.90 364.48 L897.22 364.21 L898.54 363.93 L899.86 363.64 L901.17 363.34 L902.49 363.03 L903.81 362.71 L905.13 362.37 L906.45 362.02 L907.77 361.66 L909.09 361.29 L910.41 360.90 L911.72 360.50 L913.04 360.09 L914.36 359.65 L915.68 359.21 L917.00 358.74 L918.32 358.26 L919.64 357.76 L920.96 357.24 L922.27 356.71 L923.59 356.15 L924.91 355.57 L926.23 354.98 L927.55 354.36 L928.87 353.72 L930.19 353.05 L931.51 352.36 L932.82 351.65 L934.14 350.91 L935.46 350.15 L936.78 349.36 L938.10 348.54 L939.42 347.69 L940.74 346.81 L942.06 345.90 L943.37 344.96 L944.69 343.99 L946.01 342.99 L947.33 341.95 L948.65 340.87 L949.97 339.76 L951.29 338.61 L952.61 337.42 L953.92 336.19 L955.24 334.93 L956.56 333.62 L957.88 332.26 L959.20 330.87 L960.52 329.43 L961.84 327.94 L963.16 326.41 L964.47 324.82 L965.79 323.19 L967.11 321.51 L968.43 319.78 L969.75 317.99 L971.07 316.15 L972.39 314.26 L973.71 312.31 L975.02 310.31 L976.34 308.25 L977.66 306.13 L978.98 303.96 L980.30 301.72 L981.62 299.43 L982.94 297.07 L984.26 294.65 L985.57 292.18 L986.89 289.64 L988.21 287.04 L989.53 284.38 L990.85 281.66 L992.17 278.88 L993.49 276.03 L994.81 273.13 L996.12 270.17 L997.44 267.15 L998.76 264.07 L1000.08 260.93 L1001.40 257.75 L1002.72 254.50 L1004.04 251.21 L1005.36 247.87 L1006.67 244.48 L1007.99 241.04 L1009.31 237.57 L1010.63 234.05 L1011.95 230.50 L1013.27 226.92 L1014.59 223.31 L1015.91 219.68 L1017.22 216.02 L1018.54 212.35 L1019.86 208.68 L1021.18 204.99 L1022.50 201.31 L1023.82 197.63 L1025.14 193.96 L1026.46 190.31 L1027.77 186.68 L1029.09 183.08 L1030.41 179.52 L1031.73 175.99 L1033.05 172.52 L1034.37 169.09 L1035.69 165.73 L1037.01 162.43 L1038.32 159.20 L1039.64 156.05 L1040.96 152.98 L1042.28 150.00 L1043.60 147.12 L1044.92 144.33 L1046.24 141.64 L1047.56 139.06 L1048.88 136.59 L1050.19 134.23 L1051.51 131.99 L1052.83 129.86 L1054.15 127.84 L1055.47 125.95 L1056.79 124.17 L1058.11 122.51 L1059.42 120.97 L1060.74 119.53 L1062.06 118.21 L1063.38 117.00 L1064.70 115.89 L1066.02 114.88 L1067.34 113.97 L1068.66 113.15 L1069.97 112.42 L1071.29 111.76 L1072.61 111.19 L1073.93 110.68 L1075.25 110.23 L1076.57 109.85 L1077.89 109.52 L1079.21 109.24 L1080.52 109.00 L1081.84 108.79 L1083.16 108.62 L1084.48 108.48 L1085.80 108.37 L1087.12 108.28 L1088.44 108.20 L1089.76 108.14 L1091.07 108.09 L1092.39 108.06 L1093.71 108.03 L1095.03 108.00 L1096.35 107.99 L1097.67 107.98" class="rd"/>
<path d="M758.75 371.23 L760.07 371.22 L761.39 371.21 L762.71 371.20 L764.02 371.19 L765.34 371.18 L766.66 371.17 L767.98 371.15 L769.30 371.14 L770.62 371.13 L771.94 371.11 L773.26 371.10 L774.57 371.08 L775.89 371.07 L777.21 371.05 L778.53 371.03 L779.85 371.01 L781.17 370.99 L782.49 370.97 L783.81 370.95 L785.12 370.93 L786.44 370.91 L787.76 370.89 L789.08 370.86 L790.40 370.84 L791.72 370.81 L793.04 370.79 L794.36 370.76 L795.67 370.73 L796.99 370.70 L798.31 370.67 L799.63 370.64 L800.95 370.61 L802.27 370.57 L803.59 370.54 L804.91 370.50 L806.22 370.46 L807.54 370.42 L808.86 370.38 L810.18 370.33 L811.50 370.29 L812.82 370.24 L814.14 370.19 L815.46 370.14 L816.77 370.09 L818.09 370.04 L819.41 369.98 L820.73 369.92 L822.05 369.86 L823.37 369.80 L824.69 369.73 L826.01 369.66 L827.32 369.59 L828.64 369.52 L829.96 369.44 L831.28 369.36 L832.60 369.28 L833.92 369.19 L835.24 369.11 L836.56 369.01 L837.87 368.92 L839.19 368.82 L840.51 368.71 L841.83 368.61 L843.15 368.50 L844.47 368.38 L845.79 368.26 L847.11 368.13 L848.42 368.01 L849.74 367.87 L851.06 367.73 L852.38 367.59 L853.70 367.44 L855.02 367.28 L856.34 367.12 L857.66 366.95 L858.97 366.77 L860.29 366.59 L861.61 366.41 L862.93 366.21 L864.25 366.01 L865.57 365.80 L866.89 365.58 L868.21 365.35 L869.52 365.12 L870.84 364.87 L872.16 364.62 L873.48 364.36 L874.80 364.08 L876.12 363.80 L877.44 363.51 L878.76 363.20 L880.07 362.89 L881.39 362.56 L882.71 362.22 L884.03 361.86 L885.35 361.50 L886.67 361.12 L887.99 360.73 L889.31 360.32 L890.62 359.89 L891.94 359.45 L893.26 359.00 L894.58 358.53 L895.90 358.04 L897.22 357.53 L898.54 357.00 L899.86 356.46 L901.17 355.89 L902.49 355.31 L903.81 354.70 L905.13 354.07 L906.45 353.42 L907.77 352.75 L909.09 352.05 L910.41 351.32 L911.72 350.57 L913.04 349.80 L914.36 348.99 L915.68 348.16 L917.00 347.30 L918.32 346.41 L919.64 345.49 L920.96 344.53 L922.27 343.55 L923.59 342.52 L924.91 341.47 L926.23 340.38 L927.55 339.25 L928.87 338.08 L930.19 336.88 L931.51 335.63 L932.82 334.34 L934.14 333.01 L935.46 331.64 L936.78 330.23 L938.10 328.76 L939.42 327.26 L940.74 325.70 L942.06 324.10 L943.37 322.44 L944.69 320.74 L946.01 318.98 L947.33 317.17 L948.65 315.31 L949.97 313.39 L951.29 311.42 L952.61 309.39 L953.92 307.31 L955.24 305.16 L956.56 302.96 L957.88 300.70 L959.20 298.38 L960.52 295.99 L961.84 293.55 L963.16 291.05 L964.47 288.48 L965.79 285.85 L967.11 283.17 L968.43 280.42 L969.75 277.61 L971.07 274.74 L972.39 271.81 L973.71 268.82 L975.02 265.77 L976.34 262.67 L977.66 259.51 L978.98 256.30 L980.30 253.03 L981.62 249.71 L982.94 246.35 L984.26 242.94 L985.57 239.49 L986.89 235.99 L988.21 232.46 L989.53 228.90 L990.85 225.30 L992.17 221.68 L993.49 218.04 L994.81 214.38 L996.12 210.70 L997.44 207.02 L998.76 203.34 L1000.08 199.66 L1001.40 195.98 L1002.72 192.32 L1004.04 188.68 L1005.36 185.06 L1006.67 181.48 L1007.99 177.93 L1009.31 174.43 L1010.63 170.97 L1011.95 167.57 L1013.27 164.24 L1014.59 160.97 L1015.91 157.78 L1017.22 154.66 L1018.54 151.63 L1019.86 148.70 L1021.18 145.85 L1022.50 143.11 L1023.82 140.47 L1025.14 137.94 L1026.46 135.52 L1027.77 133.21 L1029.09 131.02 L1030.41 128.94 L1031.73 126.98 L1033.05 125.14 L1034.37 123.41 L1035.69 121.80 L1037.01 120.31 L1038.32 118.93 L1039.64 117.65 L1040.96 116.49 L1042.28 115.43 L1043.60 114.46 L1044.92 113.59 L1046.24 112.81 L1047.56 112.11 L1048.88 111.49 L1050.19 110.95 L1051.51 110.47 L1052.83 110.05 L1054.15 109.70 L1055.47 109.39 L1056.79 109.12 L1058.11 108.90 L1059.42 108.71 L1060.74 108.56 L1062.06 108.43 L1063.38 108.32 L1064.70 108.24 L1066.02 108.17 L1067.34 108.12 L1068.66 108.07 L1069.97 108.04 L1071.29 108.02 L1072.61 108.00 L1073.93 107.98" class="rd"/>
<path d="M758.75 370.40 L759.19 370.38 L759.82 370.36 L760.45 370.34 L761.08 370.32 L761.72 370.30 L762.35 370.27 L762.98 370.25 L763.61 370.23 L764.24 370.21 L764.87 370.18 L765.51 370.16 L766.14 370.13 L766.77 370.11 L767.40 370.08 L768.03 370.06 L768.66 370.03 L769.29 370.00 L769.93 369.98 L770.56 369.95 L771.19 369.92 L771.82 369.89 L772.45 369.86 L773.08 369.83 L773.72 369.80 L774.35 369.77 L774.98 369.74 L775.61 369.70 L776.24 369.67 L776.87 369.64 L777.51 369.60 L778.14 369.57 L778.77 369.53 L779.40 369.50 L780.03 369.46 L780.66 369.42 L781.29 369.38 L781.93 369.34 L782.56 369.30 L783.19 369.26 L783.82 369.22 L784.45 369.18 L785.08 369.14 L785.72 369.10 L786.35 369.05 L786.98 369.01 L787.61 368.96 L788.24 368.91 L788.87 368.87 L789.51 368.82 L790.14 368.77 L790.77 368.72 L791.40 368.67 L792.03 368.62 L792.66 368.56 L793.30 368.51 L793.93 368.45 L794.56 368.40 L795.19 368.34 L795.82 368.28 L796.45 368.22 L797.08 368.16 L797.72 368.10 L798.35 368.04 L798.98 367.98 L799.61 367.91 L800.25 367.85 L800.88 367.78 L801.51 367.71 L802.15 367.64 L802.78 367.57 L803.42 367.50 L804.05 367.43 L804.69 367.35 L805.32 367.28 L805.96 367.20 L806.60 367.12 L807.24 367.04 L807.88 366.96 L808.52 366.88 L809.16 366.79 L809.80 366.71 L810.44 366.62 L811.09 366.53 L811.73 366.44 L812.37 366.35 L813.02 366.25 L813.67 366.16 L814.32 366.06 L814.97 365.96 L815.62 365.86 L816.27 365.75 L816.92 365.65 L817.57 365.54 L818.23 365.43 L818.88 365.32 L819.54 365.21 L820.20 365.10 L820.86 364.98 L821.52 364.86 L822.18 364.74 L822.85 364.62 L823.51 364.49 L824.18 364.36 L824.85 364.23 L825.52 364.10 L826.19 363.97 L826.86 363.83 L827.53 363.69 L828.21 363.55 L828.89 363.40 L829.56 363.26 L830.24 363.11 L830.93 362.96 L831.61 362.80 L832.30 362.64 L832.98 362.48 L833.67 362.32 L834.36 362.15 L835.05 361.98 L835.75 361.81 L836.44 361.64 L837.14 361.46 L837.84 361.28 L838.54 361.09 L839.24 360.90 L839.95 360.71 L840.65 360.52 L841.36 360.32 L842.07 360.12 L842.79 359.91 L843.50 359.70 L844.22 359.49 L844.93 359.27 L845.65 359.05 L846.38 358.83 L847.10 358.60 L847.83 358.37 L848.56 358.13 L849.29 357.89 L850.02 357.65 L850.75 357.40 L851.49 357.15 L852.23 356.89 L852.97 356.63 L853.71 356.36 L854.45 356.09 L855.20 355.81 L855.95 355.53 L856.70 355.25 L857.45 354.96 L858.21 354.66 L858.97 354.36 L859.73 354.06 L860.49 353.75 L861.25 353.43 L862.02 353.11 L862.79 352.78 L863.56 352.45 L864.33 352.11 L865.11 351.77 L865.88 351.42 L866.66 351.06 L867.44 350.70 L868.23 350.33 L869.01 349.96 L869.80 349.58 L870.59 349.19 L871.38 348.80 L872.18 348.40 L872.98 347.99 L873.78 347.58 L874.58 347.16 L875.38 346.73 L876.19 346.29 L876.99 345.85 L877.80 345.40 L878.62 344.95 L879.43 344.48 L880.25 344.01 L881.07 343.53 L881.89 343.04 L882.71 342.55 L883.54 342.05 L884.37 341.53 L885.20 341.02 L886.03 340.49 L886.86 339.95 L887.70 339.41 L888.54 338.85 L889.38 338.29 L890.22 337.72 L891.07 337.14 L891.91 336.55 L892.76 335.95 L893.62 335.34 L894.47 334.72 L895.32 334.09 L896.18 333.45 L897.04 332.81 L897.90 332.15 L898.77 331.48 L899.64 330.80 L900.50 330.11 L901.37 329.41 L902.25 328.70 L903.12 327.98 L904.00 327.25 L904.88 326.51 L905.76 325.76 L906.64 324.99 L907.52 324.22 L908.41 323.43 L909.30 322.63 L910.19 321.82 L911.08 321.00 L911.97 320.16 L912.87 319.31 L913.76 318.46 L914.66 317.58 L915.57 316.70 L916.47 315.80 L917.37 314.90 L918.28 313.98 L919.19 313.04 L920.10 312.09 L921.01 311.13 L921.92 310.16 L922.84 309.18 L923.75 308.18 L924.67 307.16 L925.59 306.14 L926.51 305.10 L927.44 304.05 L928.36 302.98 L929.29 301.90 L930.22 300.80 L931.14 299.70 L932.08 298.57 L933.01 297.44 L933.94 296.29 L934.88 295.12 L935.81 293.95 L936.75 292.75 L937.69 291.55 L938.63 290.33 L939.57 289.09 L940.51 287.84 L941.46 286.58 L942.40 285.30 L943.35 284.01 L944.30 282.71 L945.24 281.39 L946.19 280.05 L947.14 278.70 L948.10 277.34 L949.05 275.97 L950.00 274.58 L950.96 273.17 L951.91 271.75 L952.87 270.32 L953.83 268.88 L954.78 267.42 L955.74 265.95 L956.70 264.46 L957.66 262.97 L958.62 261.46 L959.59 259.93 L960.55 258.40 L961.51 256.85 L962.47 255.29 L963.44 253.72 L964.40 252.13 L965.37 250.54 L966.33 248.93 L967.30 247.31 L968.27 245.68 L969.23 244.04 L970.20 242.39 L971.17 240.73 L972.13 239.07 L973.10 237.39 L974.07 235.70 L975.03 234.00 L976.00 232.30 L976.97 230.59 L977.94 228.87 L978.91 227.14 L979.87 225.41 L980.84 223.67 L981.81 221.93 L982.77 220.18 L983.74 218.43 L984.71 216.67 L985.67 214.91 L986.64 213.14 L987.60 211.37 L988.57 209.60 L989.53 207.83 L990.50 206.06 L991.46 204.29 L992.42 202.52 L993.38 200.74 L994.34 198.97 L995.30 197.21 L996.26 195.44 L997.22 193.68 L998.18 191.92 L999.14 190.17 L1000.09 188.42 L1001.05 186.68 L1002.00 184.94 L1002.95 183.21 L1003.90 181.49 L1004.85 179.78 L1005.80 178.08 L1006.75 176.38 L1007.69 174.70 L1008.64 173.03 L1009.58 171.37 L1010.52 169.73 L1011.46 168.10 L1012.40 166.48 L1013.34 164.88 L1014.27 163.29 L1015.20 161.72 L1016.13 160.16 L1017.06 158.63 L1017.99 157.11 L1018.92 155.61 L1019.84 154.13 L1020.76 152.67 L1021.68 151.23 L1022.59 149.81 L1023.51 148.41 L1024.42 147.04 L1025.33 145.68 L1026.24 144.36 L1027.14 143.05 L1028.04 141.77 L1028.94 140.51 L1029.84 139.28 L1030.73 138.07 L1031.62 136.89 L1032.51 135.73 L1033.40 134.60 L1034.28 133.50 L1035.16 132.42 L1036.03 131.37 L1036.90 130.35 L1037.77 129.35 L1038.64 128.38 L1039.50 127.44 L1040.36 126.53 L1041.22 125.64 L1042.07 124.78 L1042.92 123.95 L1043.77 123.14 L1044.61 122.36 L1045.44 121.61 L1046.28 120.88 L1047.11 120.18 L1047.93 119.51 L1048.76 118.86 L1049.57 118.24 L1050.39 117.64 L1051.20 117.07 L1052.00 116.52 L1052.80 115.99 L1053.60 115.49 L1054.39 115.01 L1055.18 114.56 L1055.96 114.12 L1056.74 113.71 L1057.51 113.32 L1058.28 112.94 L1059.04 112.59 L1059.80 112.26 L1060.55 111.94 L1061.30 111.64 L1062.04 111.36 L1062.78 111.10 L1063.51 110.85 L1064.24 110.62 L1064.96 110.40 L1065.68 110.20 L1066.39 110.01 L1067.09 109.83 L1067.79 109.67 L1068.48 109.52 L1069.17 109.38 L1069.85 109.24 L1070.52 109.12 L1071.19 109.01 L1071.85 108.91 L1072.51 108.81 L1073.16 108.73 L1073.80 108.65 L1074.44 108.57 L1075.07 108.51 L1075.69 108.45 L1076.31 108.39 L1076.92 108.34 L1077.52 108.30 L1078.11 108.26 L1078.70 108.22 L1079.28 108.19 L1079.86 108.16 L1080.42 108.13 L1080.98 108.11 L1081.53 108.09 L1082.08 108.07 L1082.61 108.05 L1083.14 108.04 L1083.66 108.03 L1084.18 108.01 L1084.68 108.00 L1085.18 108.00 L1085.67 107.99 L1086.15 107.98" class="bl"/>
<path d="M758.75 371.00 L758.96 371.00 L759.61 370.99 L760.26 370.98 L760.91 370.97 L761.56 370.96 L762.22 370.95 L762.87 370.94 L763.52 370.93 L764.17 370.92 L764.82 370.91 L765.47 370.90 L766.12 370.89 L766.77 370.88 L767.42 370.86 L768.07 370.85 L768.72 370.84 L769.37 370.83 L770.02 370.82 L770.67 370.80 L771.32 370.79 L771.98 370.78 L772.63 370.77 L773.28 370.75 L773.93 370.74 L774.58 370.72 L775.23 370.71 L775.88 370.69 L776.53 370.68 L777.18 370.66 L777.83 370.65 L778.48 370.63 L779.13 370.62 L779.78 370.60 L780.43 370.59 L781.09 370.57 L781.74 370.55 L782.39 370.53 L783.04 370.52 L783.69 370.50 L784.34 370.48 L784.99 370.46 L785.64 370.44 L786.29 370.42 L786.94 370.40 L787.59 370.38 L788.24 370.36 L788.89 370.34 L789.54 370.32 L790.19 370.30 L790.85 370.27 L791.50 370.25 L792.15 370.23 L792.80 370.21 L793.45 370.18 L794.10 370.16 L794.75 370.13 L795.40 370.11 L796.05 370.08 L796.70 370.06 L797.35 370.03 L798.00 370.00 L798.65 369.98 L799.30 369.95 L799.95 369.92 L800.61 369.89 L801.26 369.86 L801.91 369.83 L802.56 369.80 L803.21 369.77 L803.86 369.74 L804.51 369.70 L805.16 369.67 L805.81 369.64 L806.46 369.60 L807.11 369.57 L807.76 369.53 L808.41 369.50 L809.06 369.46 L809.72 369.42 L810.37 369.38 L811.02 369.34 L811.67 369.30 L812.32 369.26 L812.97 369.22 L813.62 369.18 L814.27 369.14 L814.92 369.10 L815.57 369.05 L816.22 369.01 L816.87 368.96 L817.52 368.91 L818.17 368.87 L818.82 368.82 L819.48 368.77 L820.13 368.72 L820.78 368.67 L821.43 368.62 L822.08 368.56 L822.73 368.51 L823.38 368.45 L824.03 368.40 L824.69 368.34 L825.34 368.28 L826.00 368.22 L826.65 368.16 L827.31 368.10 L827.97 368.04 L828.63 367.98 L829.29 367.91 L829.95 367.85 L830.61 367.78 L831.28 367.71 L831.94 367.64 L832.61 367.57 L833.28 367.50 L833.95 367.43 L834.62 367.35 L835.29 367.28 L835.96 367.20 L836.63 367.12 L837.31 367.04 L837.99 366.96 L838.66 366.88 L839.34 366.79 L840.02 366.71 L840.71 366.62 L841.39 366.53 L842.07 366.44 L842.76 366.35 L843.45 366.25 L844.14 366.16 L844.83 366.06 L845.52 365.96 L846.21 365.86 L846.91 365.75 L847.61 365.65 L848.30 365.54 L849.00 365.43 L849.70 365.32 L850.41 365.21 L851.11 365.10 L851.82 364.98 L852.53 364.86 L853.24 364.74 L853.95 364.62 L854.66 364.49 L855.37 364.36 L856.09 364.23 L856.81 364.10 L857.53 363.97 L858.25 363.83 L858.97 363.69 L859.70 363.55 L860.42 363.40 L861.15 363.26 L861.88 363.11 L862.61 362.96 L863.34 362.80 L864.08 362.64 L864.82 362.48 L865.55 362.32 L866.29 362.15 L867.04 361.98 L867.78 361.81 L868.53 361.64 L869.27 361.46 L870.02 361.28 L870.77 361.09 L871.53 360.90 L872.28 360.71 L873.04 360.52 L873.80 360.32 L874.56 360.12 L875.32 359.91 L876.08 359.70 L876.85 359.49 L877.62 359.27 L878.38 359.05 L879.16 358.83 L879.93 358.60 L880.70 358.37 L881.48 358.13 L882.26 357.89 L883.04 357.65 L883.82 357.40 L884.61 357.15 L885.39 356.89 L886.18 356.63 L886.97 356.36 L887.76 356.09 L888.55 355.81 L889.35 355.53 L890.15 355.25 L890.94 354.96 L891.75 354.66 L892.55 354.36 L893.35 354.06 L894.16 353.75 L894.97 353.43 L895.78 353.11 L896.59 352.78 L897.40 352.45 L898.22 352.11 L899.03 351.77 L899.85 351.42 L900.67 351.06 L901.49 350.70 L902.32 350.33 L903.14 349.96 L903.97 349.58 L904.80 349.19 L905.63 348.80 L906.46 348.40 L907.30 347.99 L908.13 347.58 L908.97 347.16 L909.81 346.73 L910.65 346.29 L911.50 345.85 L912.34 345.40 L913.19 344.95 L914.04 344.48 L914.88 344.01 L915.74 343.53 L916.59 343.04 L917.44 342.55 L918.30 342.05 L919.16 341.53 L920.02 341.02 L920.88 340.49 L921.74 339.95 L922.60 339.41 L923.47 338.85 L924.34 338.29 L925.20 337.72 L926.07 337.14 L926.94 336.55 L927.82 335.95 L928.69 335.34 L929.57 334.72 L930.44 334.09 L931.32 333.45 L932.20 332.81 L933.08 332.15 L933.97 331.48 L934.85 330.80 L935.74 330.11 L936.62 329.41 L937.51 328.70 L938.40 327.98 L939.29 327.25 L940.18 326.51 L941.07 325.76 L941.97 324.99 L942.86 324.22 L943.76 323.43 L944.66 322.63 L945.55 321.82 L946.45 321.00 L947.35 320.16 L948.26 319.31 L949.16 318.46 L950.06 317.58 L950.97 316.70 L951.87 315.80 L952.78 314.90 L953.69 313.98 L954.59 313.04 L955.50 312.09 L956.41 311.13 L957.33 310.16 L958.24 309.18 L959.15 308.18 L960.06 307.16 L960.98 306.14 L961.89 305.10 L962.81 304.05 L963.72 302.98 L964.64 301.90 L965.56 300.80 L966.48 299.70 L967.39 298.57 L968.31 297.44 L969.23 296.29 L970.15 295.12 L971.07 293.95 L971.99 292.75 L972.91 291.55 L973.84 290.33 L974.76 289.09 L975.68 287.84 L976.60 286.58 L977.53 285.30 L978.45 284.01 L979.37 282.71 L980.30 281.39 L981.22 280.05 L982.14 278.70 L983.07 277.34 L983.99 275.97 L984.91 274.58 L985.84 273.17 L986.76 271.75 L987.69 270.32 L988.61 268.88 L989.53 267.42 L990.46 265.95 L991.38 264.46 L992.30 262.97 L993.22 261.46 L994.15 259.93 L995.07 258.40 L995.99 256.85 L996.91 255.29 L997.83 253.72 L998.75 252.13 L999.67 250.54 L1000.59 248.93 L1001.51 247.31 L1002.42 245.68 L1003.34 244.04 L1004.26 242.39 L1005.17 240.73 L1006.09 239.07 L1007.00 237.39 L1007.91 235.70 L1008.83 234.00 L1009.74 232.30 L1010.65 230.59 L1011.56 228.87 L1012.47 227.14 L1013.37 225.41 L1014.28 223.67 L1015.18 221.93 L1016.09 220.18 L1016.99 218.43 L1017.89 216.67 L1018.79 214.91 L1019.69 213.14 L1020.59 211.37 L1021.48 209.60 L1022.38 207.83 L1023.27 206.06 L1024.16 204.29 L1025.05 202.52 L1025.94 200.74 L1026.82 198.97 L1027.71 197.21 L1028.59 195.44 L1029.47 193.68 L1030.35 191.92 L1031.22 190.17 L1032.10 188.42 L1032.97 186.68 L1033.84 184.94 L1034.71 183.21 L1035.58 181.49 L1036.44 179.78 L1037.30 178.08 L1038.16 176.38 L1039.02 174.70 L1039.87 173.03 L1040.72 171.37 L1041.57 169.73 L1042.42 168.10 L1043.27 166.48 L1044.11 164.88 L1044.95 163.29 L1045.78 161.72 L1046.62 160.16 L1047.45 158.63 L1048.28 157.11 L1049.10 155.61 L1049.92 154.13 L1050.74 152.67 L1051.56 151.23 L1052.37 149.81 L1053.18 148.41 L1053.99 147.04 L1054.79 145.68 L1055.59 144.36 L1056.38 143.05 L1057.18 141.77 L1057.97 140.51 L1058.75 139.28 L1059.53 138.07 L1060.31 136.89 L1061.09 135.73 L1061.86 134.60 L1062.63 133.50 L1063.39 132.42 L1064.15 131.37 L1064.90 130.35 L1065.65 129.35 L1066.40 128.38 L1067.14 127.44 L1067.88 126.53 L1068.62 125.64 L1069.35 124.78 L1070.07 123.95 L1070.79 123.14 L1071.51 122.36 L1072.22 121.61 L1072.93 120.88 L1073.63 120.18 L1074.33 119.51 L1075.02 118.86 L1075.71 118.24 L1076.39 117.64 L1077.07 117.07 L1077.74 116.52 L1078.41 115.99 L1079.07 115.49 L1079.73 115.01 L1080.38 114.56 L1081.03 114.12 L1081.67 113.71 L1082.31 113.32 L1082.94 112.94 L1083.56 112.59 L1084.18 112.26 L1084.79 111.94 L1085.40 111.64 L1086.00 111.36 L1086.60 111.10 L1087.19 110.85 L1087.77 110.62 L1088.35 110.40 L1088.92 110.20 L1089.48 110.01 L1090.04 109.83 L1090.60 109.67 L1091.14 109.52 L1091.68 109.38 L1092.21 109.24 L1092.74 109.12 L1093.26 109.01 L1093.77 108.91 L1094.28 108.81 L1094.77 108.73 L1095.27 108.65 L1095.75 108.57 L1096.23 108.51 L1096.70 108.45 L1097.16 108.39 L1097.62 108.34 L1098.06 108.30 L1098.50 108.26 L1098.95 108.22 L1099.39 108.19 L1099.83 108.16 L1100.27 108.13 L1100.71 108.11 L1101.15 108.09 L1101.59 108.07 L1102.03 108.05 L1102.47 108.04 L1102.91 108.03 L1103.35 108.01 L1103.79 108.00 L1104.23 108.00 L1104.68 107.99 L1105.12 107.98" class="bl"/>
<path d="M758.75 371.27 L759.25 371.27 L759.96 371.26 L760.67 371.26 L761.38 371.25 L762.10 371.25 L762.81 371.25 L763.52 371.24 L764.23 371.24 L764.94 371.23 L765.65 371.23 L766.36 371.22 L767.07 371.22 L767.79 371.21 L768.50 371.21 L769.21 371.20 L769.92 371.19 L770.63 371.19 L771.34 371.18 L772.05 371.18 L772.77 371.17 L773.48 371.16 L774.19 371.16 L774.90 371.15 L775.61 371.15 L776.32 371.14 L777.03 371.13 L777.74 371.13 L778.46 371.12 L779.17 371.11 L779.88 371.10 L780.59 371.10 L781.30 371.09 L782.01 371.08 L782.72 371.08 L783.44 371.07 L784.15 371.06 L784.86 371.05 L785.57 371.04 L786.28 371.03 L786.99 371.03 L787.70 371.02 L788.41 371.01 L789.13 371.00 L789.84 370.99 L790.55 370.98 L791.26 370.97 L791.97 370.96 L792.68 370.95 L793.39 370.94 L794.11 370.93 L794.82 370.92 L795.53 370.91 L796.24 370.90 L796.95 370.89 L797.66 370.88 L798.37 370.86 L799.08 370.85 L799.80 370.84 L800.51 370.83 L801.22 370.82 L801.93 370.80 L802.64 370.79 L803.35 370.78 L804.06 370.77 L804.78 370.75 L805.49 370.74 L806.20 370.72 L806.91 370.71 L807.62 370.69 L808.33 370.68 L809.04 370.66 L809.75 370.65 L810.47 370.63 L811.18 370.62 L811.89 370.60 L812.60 370.59 L813.31 370.57 L814.02 370.55 L814.73 370.53 L815.45 370.52 L816.16 370.50 L816.87 370.48 L817.58 370.46 L818.29 370.44 L819.00 370.42 L819.71 370.40 L820.42 370.38 L821.14 370.36 L821.85 370.34 L822.56 370.32 L823.27 370.30 L823.98 370.27 L824.69 370.25 L825.40 370.23 L826.12 370.21 L826.83 370.18 L827.54 370.16 L828.25 370.13 L828.96 370.11 L829.67 370.08 L830.38 370.06 L831.09 370.03 L831.81 370.00 L832.52 369.98 L833.23 369.95 L833.94 369.92 L834.65 369.89 L835.36 369.86 L836.07 369.83 L836.79 369.80 L837.50 369.77 L838.21 369.74 L838.92 369.70 L839.63 369.67 L840.34 369.64 L841.05 369.60 L841.76 369.57 L842.48 369.53 L843.19 369.50 L843.90 369.46 L844.61 369.42 L845.32 369.38 L846.03 369.34 L846.74 369.30 L847.46 369.26 L848.17 369.22 L848.88 369.18 L849.59 369.14 L850.30 369.10 L851.01 369.05 L851.72 369.01 L852.43 368.96 L853.15 368.91 L853.86 368.87 L854.57 368.82 L855.28 368.77 L855.99 368.72 L856.70 368.67 L857.41 368.62 L858.13 368.56 L858.84 368.51 L859.55 368.45 L860.26 368.40 L860.96 368.34 L861.67 368.28 L862.38 368.22 L863.08 368.16 L863.79 368.10 L864.49 368.04 L865.19 367.98 L865.89 367.91 L866.59 367.85 L867.29 367.78 L867.99 367.71 L868.69 367.64 L869.39 367.57 L870.09 367.50 L870.79 367.43 L871.48 367.35 L872.18 367.28 L872.88 367.20 L873.57 367.12 L874.27 367.04 L874.96 366.96 L875.66 366.88 L876.36 366.79 L877.05 366.71 L877.75 366.62 L878.44 366.53 L879.14 366.44 L879.83 366.35 L880.53 366.25 L881.22 366.16 L881.92 366.06 L882.61 365.96 L883.31 365.86 L884.00 365.75 L884.70 365.65 L885.40 365.54 L886.09 365.43 L886.79 365.32 L887.49 365.21 L888.19 365.10 L888.89 364.98 L889.59 364.86 L890.29 364.74 L890.99 364.62 L891.69 364.49 L892.39 364.36 L893.09 364.23 L893.79 364.10 L894.50 363.97 L895.20 363.83 L895.91 363.69 L896.61 363.55 L897.32 363.40 L898.02 363.26 L898.73 363.11 L899.44 362.96 L900.15 362.80 L900.86 362.64 L901.57 362.48 L902.29 362.32 L903.00 362.15 L903.72 361.98 L904.43 361.81 L905.15 361.64 L905.87 361.46 L906.58 361.28 L907.30 361.09 L908.03 360.90 L908.75 360.71 L909.47 360.52 L910.20 360.32 L910.92 360.12 L911.65 359.91 L912.38 359.70 L913.11 359.49 L913.84 359.27 L914.57 359.05 L915.30 358.83 L916.04 358.60 L916.78 358.37 L917.51 358.13 L918.25 357.89 L918.99 357.65 L919.73 357.40 L920.48 357.15 L921.22 356.89 L921.97 356.63 L922.71 356.36 L923.46 356.09 L924.21 355.81 L924.96 355.53 L925.72 355.25 L926.47 354.96 L927.23 354.66 L927.98 354.36 L928.74 354.06 L929.50 353.75 L930.27 353.43 L931.03 353.11 L931.79 352.78 L932.56 352.45 L933.33 352.11 L934.10 351.77 L934.87 351.42 L935.64 351.06 L936.42 350.70 L937.19 350.33 L937.97 349.96 L938.75 349.58 L939.53 349.19 L940.31 348.80 L941.10 348.40 L941.88 347.99 L942.67 347.58 L943.46 347.16 L944.25 346.73 L945.04 346.29 L945.83 345.85 L946.63 345.40 L947.42 344.95 L948.22 344.48 L949.02 344.01 L949.82 343.53 L950.62 343.04 L951.43 342.55 L952.23 342.05 L953.04 341.53 L953.85 341.02 L954.66 340.49 L955.47 339.95 L956.28 339.41 L957.10 338.85 L957.92 338.29 L958.73 337.72 L959.55 337.14 L960.37 336.55 L961.20 335.95 L962.02 335.34 L962.84 334.72 L963.67 334.09 L964.50 333.45 L965.33 332.81 L966.16 332.15 L966.99 331.48 L967.83 330.80 L968.66 330.11 L969.50 329.41 L970.33 328.70 L971.17 327.98 L972.01 327.25 L972.86 326.51 L973.70 325.76 L974.54 324.99 L975.39 324.22 L976.23 323.43 L977.08 322.63 L977.93 321.82 L978.78 321.00 L979.63 320.16 L980.49 319.31 L981.34 318.46 L982.19 317.58 L983.05 316.70 L983.91 315.80 L984.77 314.90 L985.62 313.98 L986.48 313.04 L987.35 312.09 L988.21 311.13 L989.07 310.16 L989.93 309.18 L990.80 308.18 L991.67 307.16 L992.53 306.14 L993.40 305.10 L994.27 304.05 L995.14 302.98 L996.01 301.90 L996.88 300.80 L997.75 299.70 L998.62 298.57 L999.49 297.44 L1000.36 296.29 L1001.24 295.12 L1002.11 293.95 L1002.99 292.75 L1003.86 291.55 L1004.74 290.33 L1005.61 289.09 L1006.49 287.84 L1007.37 286.58 L1008.24 285.30 L1009.12 284.01 L1010.00 282.71 L1010.88 281.39 L1011.75 280.05 L1012.63 278.70 L1013.51 277.34 L1014.39 275.97 L1015.27 274.58 L1016.15 273.17 L1017.03 271.75 L1017.91 270.32 L1018.78 268.88 L1019.66 267.42 L1020.54 265.95 L1021.42 264.46 L1022.30 262.97 L1023.17 261.46 L1024.05 259.93 L1024.93 258.40 L1025.81 256.85 L1026.68 255.29 L1027.56 253.72 L1028.43 252.13 L1029.31 250.54 L1030.18 248.93 L1031.06 247.31 L1031.93 245.68 L1032.80 244.04 L1033.67 242.39 L1034.54 240.73 L1035.41 239.07 L1036.28 237.39 L1037.15 235.70 L1038.02 234.00 L1038.88 232.30 L1039.75 230.59 L1040.61 228.87 L1041.47 227.14 L1042.33 225.41 L1043.19 223.67 L1044.05 221.93 L1044.91 220.18 L1045.77 218.43 L1046.62 216.67 L1047.47 214.91 L1048.33 213.14 L1049.18 211.37 L1050.02 209.60 L1050.87 207.83 L1051.72 206.06 L1052.56 204.29 L1053.40 202.52 L1054.24 200.74 L1055.08 198.97 L1055.91 197.21 L1056.74 195.44 L1057.57 193.68 L1058.40 191.92 L1059.23 190.17 L1060.05 188.42 L1060.88 186.68 L1061.70 184.94 L1062.51 183.21 L1063.33 181.49 L1064.14 179.78 L1064.95 178.08 L1065.75 176.38 L1066.56 174.70 L1067.36 173.03 L1068.16 171.37 L1068.95 169.73 L1069.74 168.10 L1070.53 166.48 L1071.32 164.88 L1072.10 163.29 L1072.88 161.72 L1073.66 160.16 L1074.43 158.63 L1075.20 157.11 L1075.96 155.61 L1076.72 154.13 L1077.48 152.67 L1078.24 151.23 L1078.99 149.81 L1079.74 148.41 L1080.48 147.04 L1081.22 145.68 L1081.95 144.36 L1082.68 143.05 L1083.41 141.77 L1084.13 140.51 L1084.85 139.28 L1085.57 138.07 L1086.27 136.89 L1086.98 135.73 L1087.68 134.60 L1088.37 133.50 L1089.07 132.42 L1089.75 131.37 L1090.43 130.35 L1091.11 129.35 L1091.78 128.38 L1092.45 127.44 L1093.11 126.53 L1093.76 125.64 L1094.41 124.78 L1095.06 123.95 L1095.70 123.14 L1096.33 122.36 L1096.96 121.61 L1097.58 120.88 L1098.20 120.18 L1098.81 119.51 L1099.41 118.86 L1100.01 118.24 L1100.60 117.64 L1101.19 117.07 L1101.77 116.52 L1102.34 115.99 L1102.91 115.49 L1103.47 115.01 L1104.02 114.56 L1104.57 114.12 L1105.11 113.71 L1105.65 113.32 L1106.17 112.94 L1106.69 112.59 L1107.21 112.26 L1107.71 111.94 L1108.21 111.64 L1108.70 111.36 L1109.18 111.10 L1109.66 110.85 L1110.13 110.62 L1110.59 110.40 L1111.04 110.20 L1111.49 110.01 L1111.93 109.83 L1112.36 109.67 L1112.80 109.52 L1113.24 109.38 L1113.67 109.24 L1114.11 109.12 L1114.55 109.01 L1114.98 108.91 L1115.42 108.81 L1115.86 108.73 L1116.29 108.65 L1116.73 108.57 L1117.17 108.51 L1117.60 108.45 L1118.04 108.39 L1118.47 108.34 L1118.91 108.30 L1119.35 108.26 L1119.78 108.22 L1120.22 108.19 L1120.66 108.16 L1121.09 108.13 L1121.53 108.11 L1121.97 108.09 L1122.40 108.07 L1122.84 108.05 L1123.28 108.04 L1123.71 108.03 L1124.15 108.01 L1124.59 108.00 L1125.02 108.00 L1125.46 107.99 L1125.90 107.98" class="bl"/>
<path d="M758.75 371.47 L758.98 371.47 L759.55 371.47 L760.12 371.47 L760.69 371.47 L761.26 371.47 L761.82 371.47 L762.39 371.47 L762.96 371.47 L763.53 371.47 L764.10 371.47 L764.67 371.47 L765.24 371.46 L765.81 371.46 L766.38 371.46 L766.95 371.46 L767.52 371.46 L768.09 371.46 L768.66 371.46 L769.23 371.46 L769.80 371.46 L770.37 371.46 L770.94 371.46 L771.51 371.46 L772.08 371.46 L772.65 371.46 L773.22 371.45 L773.79 371.45 L774.36 371.45 L774.93 371.45 L775.50 371.45 L776.07 371.45 L776.64 371.45 L777.21 371.45 L777.78 371.45 L778.35 371.45 L778.91 371.45 L779.48 371.44 L780.05 371.44 L780.62 371.44 L781.19 371.44 L781.76 371.44 L782.33 371.44 L782.90 371.44 L783.47 371.44 L784.04 371.44 L784.61 371.43 L785.18 371.43 L785.75 371.43 L786.32 371.43 L786.89 371.43 L787.46 371.43 L788.03 371.43 L788.60 371.43 L789.17 371.42 L789.74 371.42 L790.31 371.42 L790.88 371.42 L791.45 371.42 L792.02 371.42 L792.59 371.41 L793.16 371.41 L793.73 371.41 L794.30 371.41 L794.87 371.41 L795.44 371.41 L796.00 371.41 L796.57 371.40 L797.14 371.40 L797.71 371.40 L798.28 371.40 L798.85 371.40 L799.42 371.39 L799.99 371.39 L800.56 371.39 L801.13 371.39 L801.70 371.39 L802.27 371.38 L802.84 371.38 L803.41 371.38 L803.98 371.38 L804.55 371.38 L805.12 371.37 L805.69 371.37 L806.26 371.37 L806.83 371.37 L807.40 371.36 L807.97 371.36 L808.54 371.36 L809.11 371.36 L809.68 371.35 L810.25 371.35 L810.82 371.35 L811.39 371.34 L811.96 371.34 L812.53 371.34 L813.09 371.34 L813.66 371.33 L814.23 371.33 L814.80 371.33 L815.37 371.32 L815.94 371.32 L816.51 371.32 L817.08 371.31 L817.65 371.31 L818.22 371.31 L818.79 371.30 L819.36 371.30 L819.93 371.30 L820.50 371.29 L821.07 371.29 L821.64 371.28 L822.21 371.28 L822.78 371.28 L823.35 371.27 L823.92 371.27 L824.49 371.26 L825.06 371.26 L825.63 371.25 L826.20 371.25 L826.77 371.25 L827.34 371.24 L827.91 371.24 L828.48 371.23 L829.05 371.23 L829.62 371.22 L830.18 371.22 L830.75 371.21 L831.32 371.21 L831.89 371.20 L832.46 371.19 L833.03 371.19 L833.60 371.18 L834.17 371.18 L834.74 371.17 L835.31 371.16 L835.88 371.16 L836.45 371.15 L837.02 371.15 L837.59 371.14 L838.16 371.13 L838.73 371.13 L839.30 371.12 L839.87 371.11 L840.44 371.10 L841.01 371.10 L841.58 371.09 L842.15 371.08 L842.72 371.08 L843.29 371.07 L843.86 371.06 L844.43 371.05 L845.00 371.04 L845.57 371.03 L846.14 371.03 L846.71 371.02 L847.27 371.01 L847.84 371.00 L848.41 370.99 L848.98 370.98 L849.55 370.97 L850.12 370.96 L850.69 370.95 L851.26 370.94 L851.83 370.93 L852.40 370.92 L852.97 370.91 L853.54 370.90 L854.11 370.89 L854.68 370.88 L855.25 370.86 L855.82 370.85 L856.39 370.84 L856.96 370.83 L857.53 370.82 L858.10 370.80 L858.67 370.79 L859.24 370.78 L859.81 370.77 L860.38 370.75 L860.95 370.74 L861.52 370.72 L862.09 370.71 L862.66 370.69 L863.23 370.68 L863.80 370.66 L864.36 370.65 L864.93 370.63 L865.50 370.62 L866.07 370.60 L866.64 370.59 L867.21 370.57 L867.78 370.55 L868.35 370.53 L868.92 370.52 L869.49 370.50 L870.06 370.48 L870.63 370.46 L871.20 370.44 L871.77 370.42 L872.34 370.40 L872.91 370.38 L873.48 370.36 L874.05 370.34 L874.62 370.32 L875.19 370.30 L875.76 370.27 L876.33 370.25 L876.90 370.23 L877.47 370.21 L878.04 370.18 L878.61 370.16 L879.18 370.13 L879.75 370.11 L880.32 370.08 L880.89 370.06 L881.45 370.03 L882.02 370.00 L882.59 369.98 L883.16 369.95 L883.73 369.92 L884.30 369.89 L884.87 369.86 L885.44 369.83 L886.01 369.80 L886.58 369.77 L887.15 369.74 L887.72 369.70 L888.29 369.67 L888.86 369.64 L889.43 369.60 L890.00 369.57 L890.57 369.53 L891.14 369.50 L891.71 369.46 L892.28 369.42 L892.85 369.38 L893.42 369.34 L893.99 369.30 L894.56 369.26 L895.13 369.22 L895.70 369.18 L896.27 369.14 L896.84 369.10 L897.41 369.05 L897.98 369.01 L898.54 368.96 L899.11 368.91 L899.68 368.87 L900.25 368.82 L900.82 368.77 L901.39 368.72 L901.96 368.67 L902.53 368.62 L903.10 368.56 L903.67 368.51 L904.24 368.45 L904.81 368.40 L905.38 368.34 L905.95 368.28 L906.52 368.22 L907.09 368.16 L907.66 368.10 L908.23 368.04 L908.80 367.98 L909.37 367.91 L909.94 367.85 L910.51 367.78 L911.08 367.71 L911.65 367.64 L912.22 367.57 L912.79 367.50 L913.36 367.43 L913.93 367.35 L914.50 367.28 L915.07 367.20 L915.64 367.12 L916.20 367.04 L916.77 366.96 L917.34 366.88 L917.91 366.79 L918.48 366.71 L919.05 366.62 L919.62 366.53 L920.19 366.44 L920.76 366.35 L921.33 366.25 L921.90 366.16 L922.47 366.06 L923.04 365.96 L923.61 365.86 L924.18 365.75 L924.75 365.65 L925.32 365.54 L925.89 365.43 L926.46 365.32 L927.04 365.21 L927.61 365.10 L928.19 364.98 L928.78 364.86 L929.36 364.74 L929.95 364.62 L930.54 364.49 L931.14 364.36 L931.73 364.23 L932.33 364.10 L932.93 363.97 L933.54 363.83 L934.15 363.69 L934.76 363.55 L935.37 363.40 L935.99 363.26 L936.60 363.11 L937.22 362.96 L937.85 362.80 L938.47 362.64 L939.10 362.48 L939.73 362.32 L940.37 362.15 L941.00 361.98 L941.64 361.81 L942.28 361.64 L942.92 361.46 L943.57 361.28 L944.22 361.09 L944.87 360.90 L945.52 360.71 L946.18 360.52 L946.83 360.32 L947.49 360.12 L948.16 359.91 L948.82 359.70 L949.49 359.49 L950.15 359.27 L950.83 359.05 L951.50 358.83 L952.17 358.60 L952.85 358.37 L953.53 358.13 L954.21 357.89 L954.90 357.65 L955.58 357.40 L956.27 357.15 L956.96 356.89 L957.65 356.63 L958.34 356.36 L959.04 356.09 L959.74 355.81 L960.44 355.53 L961.14 355.25 L961.84 354.96 L962.55 354.66 L963.25 354.36 L963.96 354.06 L964.67 353.75 L965.39 353.43 L966.10 353.11 L966.82 352.78 L967.53 352.45 L968.25 352.11 L968.98 351.77 L969.70 351.42 L970.42 351.06 L971.15 350.70 L971.88 350.33 L972.61 349.96 L973.34 349.58 L974.07 349.19 L974.80 348.80 L975.54 348.40 L976.28 347.99 L977.02 347.58 L977.76 347.16 L978.50 346.73 L979.24 346.29 L979.99 345.85 L980.73 345.40 L981.48 344.95 L982.23 344.48 L982.98 344.01 L983.73 343.53 L984.48 343.04 L985.23 342.55 L985.99 342.05 L986.74 341.53 L987.50 341.02 L988.26 340.49 L989.02 339.95 L989.78 339.41 L990.54 338.85 L991.30 338.29 L992.07 337.72 L992.83 337.14 L993.60 336.55 L994.37 335.95 L995.13 335.34 L995.90 334.72 L996.67 334.09 L997.44 333.45 L998.22 332.81 L998.99 332.15 L999.76 331.48 L1000.54 330.80 L1001.31 330.11 L1002.09 329.41 L1002.86 328.70 L1003.64 327.98 L1004.42 327.25 L1005.20 326.51 L1005.98 325.76 L1006.76 324.99 L1007.54 324.22 L1008.32 323.43 L1009.10 322.63 L1009.88 321.82 L1010.67 321.00 L1011.45 320.16 L1012.23 319.31 L1013.02 318.46 L1013.80 317.58 L1014.59 316.70 L1015.38 315.80 L1016.16 314.90 L1016.95 313.98 L1017.74 313.04 L1018.52 312.09 L1019.31 311.13 L1020.10 310.16 L1020.89 309.18 L1021.67 308.18 L1022.46 307.16 L1023.25 306.14 L1024.04 305.10 L1024.83 304.05 L1025.62 302.98 L1026.41 301.90 L1027.20 300.80 L1027.99 299.70 L1028.78 298.57 L1029.57 297.44 L1030.36 296.29 L1031.15 295.12 L1031.94 293.95 L1032.72 292.75 L1033.51 291.55 L1034.30 290.33 L1035.09 289.09 L1035.88 287.84 L1036.67 286.58 L1037.46 285.30 L1038.25 284.01 L1039.03 282.71 L1039.82 281.39 L1040.61 280.05 L1041.39 278.70 L1042.18 277.34 L1042.97 275.97 L1043.75 274.58 L1044.54 273.17 L1045.32 271.75 L1046.11 270.32 L1046.89 268.88 L1047.67 267.42 L1048.46 265.95 L1049.24 264.46 L1050.02 262.97 L1050.80 261.46 L1051.58 259.93 L1052.36 258.40 L1053.14 256.85 L1053.92 255.29 L1054.70 253.72 L1055.47 252.13 L1056.25 250.54 L1057.02 248.93 L1057.80 247.31 L1058.57 245.68 L1059.34 244.04 L1060.11 242.39 L1060.88 240.73 L1061.65 239.07 L1062.42 237.39 L1063.19 235.70 L1063.96 234.00 L1064.72 232.30 L1065.49 230.59 L1066.25 228.87 L1067.01 227.14 L1067.77 225.41 L1068.53 223.67 L1069.29 221.93 L1070.05 220.18 L1070.80 218.43 L1071.56 216.67 L1072.31 214.91 L1073.06 213.14 L1073.81 211.37 L1074.56 209.60 L1075.31 207.83 L1076.06 206.06 L1076.80 204.29 L1077.54 202.52 L1078.28 200.74 L1079.03 198.97 L1079.76 197.21 L1080.50 195.44 L1081.24 193.68 L1081.97 191.92 L1082.70 190.17 L1083.43 188.42 L1084.16 186.68 L1084.89 184.94 L1085.61 183.21 L1086.34 181.49 L1087.06 179.78 L1087.78 178.08 L1088.49 176.38 L1089.21 174.70 L1089.92 173.03 L1090.64 171.37 L1091.34 169.73 L1092.05 168.10 L1092.76 166.48 L1093.46 164.88 L1094.16 163.29 L1094.86 161.72 L1095.56 160.16 L1096.26 158.63 L1096.95 157.11 L1097.64 155.61 L1098.33 154.13 L1099.01 152.67 L1099.70 151.23 L1100.38 149.81 L1101.06 148.41 L1101.73 147.04 L1102.41 145.68 L1103.08 144.36 L1103.75 143.05 L1104.42 141.77 L1105.08 140.51 L1105.74 139.28 L1106.40 138.07 L1107.06 136.89 L1107.71 135.73 L1108.36 134.60 L1109.01 133.50 L1109.66 132.42 L1110.30 131.37 L1110.94 130.35 L1111.58 129.35 L1112.21 128.38 L1112.84 127.44 L1113.47 126.53 L1114.10 125.64 L1114.72 124.78 L1115.34 123.95 L1115.96 123.14 L1116.57 122.36 L1117.18 121.61 L1117.79 120.88 L1118.39 120.18 L1119.00 119.51 L1119.59 118.86 L1120.19 118.24 L1120.78 117.64 L1121.37 117.07 L1121.96 116.52 L1122.54 115.99 L1123.12 115.49 L1123.69 115.01 L1124.26 114.56 L1124.83 114.12 L1125.40 113.71 L1125.96 113.32 L1126.52 112.94 L1127.07 112.59 L1127.62 112.26 L1128.17 111.94 L1128.71 111.64 L1129.25 111.36 L1129.79 111.10 L1130.32 110.85 L1130.85 110.62 L1131.38 110.40 L1131.90 110.20 L1132.42 110.01 L1132.93 109.83 L1133.44 109.67 L1133.94 109.52 L1134.45 109.38 L1134.94 109.24 L1135.44 109.12 L1135.93 109.01 L1136.41 108.91 L1136.90 108.81 L1137.37 108.73 L1137.85 108.65 L1138.32 108.57 L1138.78 108.51 L1139.24 108.45 L1139.70 108.39 L1140.15 108.34 L1140.60 108.30 L1141.04 108.26 L1141.49 108.22 L1141.93 108.19 L1142.37 108.16 L1142.82 108.13 L1143.26 108.11 L1143.70 108.09 L1144.15 108.07 L1144.59 108.05 L1145.04 108.04 L1145.48 108.03 L1145.92 108.01 L1146.37 108.00 L1146.81 108.00 L1147.25 107.99 L1147.70 107.98" class="bl"/>
<path d="M758.75 371.49 L758.80 371.49 L759.37 371.49 L759.94 371.49 L760.51 371.49 L761.08 371.49 L761.65 371.49 L762.22 371.49 L762.79 371.49 L763.36 371.49 L763.93 371.49 L764.50 371.49 L765.07 371.49 L765.64 371.49 L766.22 371.49 L766.79 371.49 L767.36 371.49 L767.93 371.49 L768.50 371.49 L769.07 371.49 L769.64 371.49 L770.21 371.49 L770.78 371.49 L771.35 371.49 L771.92 371.49 L772.49 371.49 L773.06 371.48 L773.63 371.48 L774.20 371.48 L774.77 371.48 L775.34 371.48 L775.91 371.48 L776.48 371.48 L777.06 371.48 L777.63 371.48 L778.20 371.48 L778.77 371.48 L779.34 371.48 L779.91 371.48 L780.48 371.48 L781.05 371.48 L781.62 371.48 L782.19 371.48 L782.76 371.48 L783.33 371.48 L783.90 371.48 L784.47 371.48 L785.04 371.48 L785.61 371.48 L786.18 371.48 L786.75 371.48 L787.32 371.48 L787.90 371.48 L788.47 371.47 L789.04 371.47 L789.61 371.47 L790.18 371.47 L790.75 371.47 L791.32 371.47 L791.89 371.47 L792.46 371.47 L793.03 371.47 L793.60 371.47 L794.17 371.47 L794.74 371.47 L795.31 371.47 L795.88 371.47 L796.45 371.47 L797.02 371.47 L797.59 371.47 L798.16 371.47 L798.74 371.47 L799.31 371.46 L799.88 371.46 L800.45 371.46 L801.02 371.46 L801.59 371.46 L802.16 371.46 L802.73 371.46 L803.30 371.46 L803.87 371.46 L804.44 371.46 L805.01 371.46 L805.58 371.46 L806.15 371.46 L806.72 371.46 L807.29 371.45 L807.86 371.45 L808.43 371.45 L809.00 371.45 L809.58 371.45 L810.15 371.45 L810.72 371.45 L811.29 371.45 L811.86 371.45 L812.43 371.45 L813.00 371.45 L813.57 371.44 L814.14 371.44 L814.71 371.44 L815.28 371.44 L815.85 371.44 L816.42 371.44 L816.99 371.44 L817.56 371.44 L818.13 371.44 L818.70 371.43 L819.27 371.43 L819.85 371.43 L820.42 371.43 L820.99 371.43 L821.56 371.43 L822.13 371.43 L822.70 371.43 L823.27 371.42 L823.84 371.42 L824.41 371.42 L824.98 371.42 L825.55 371.42 L826.12 371.42 L826.69 371.41 L827.26 371.41 L827.83 371.41 L828.40 371.41 L828.97 371.41 L829.54 371.41 L830.11 371.41 L830.69 371.40 L831.26 371.40 L831.83 371.40 L832.40 371.40 L832.97 371.40 L833.54 371.39 L834.11 371.39 L834.68 371.39 L835.25 371.39 L835.82 371.39 L836.39 371.38 L836.96 371.38 L837.53 371.38 L838.10 371.38 L838.67 371.38 L839.24 371.37 L839.81 371.37 L840.38 371.37 L840.95 371.37 L841.53 371.36 L842.10 371.36 L842.67 371.36 L843.24 371.36 L843.81 371.35 L844.38 371.35 L844.95 371.35 L845.52 371.34 L846.09 371.34 L846.66 371.34 L847.23 371.34 L847.80 371.33 L848.37 371.33 L848.94 371.33 L849.51 371.32 L850.08 371.32 L850.65 371.32 L851.22 371.31 L851.79 371.31 L852.37 371.31 L852.94 371.30 L853.51 371.30 L854.08 371.30 L854.65 371.29 L855.22 371.29 L855.79 371.28 L856.36 371.28 L856.93 371.28 L857.50 371.27 L858.07 371.27 L858.64 371.26 L859.21 371.26 L859.78 371.25 L860.35 371.25 L860.92 371.25 L861.49 371.24 L862.06 371.24 L862.63 371.23 L863.21 371.23 L863.78 371.22 L864.35 371.22 L864.92 371.21 L865.49 371.21 L866.06 371.20 L866.63 371.19 L867.20 371.19 L867.77 371.18 L868.34 371.18 L868.91 371.17 L869.48 371.16 L870.05 371.16 L870.62 371.15 L871.19 371.15 L871.76 371.14 L872.33 371.13 L872.90 371.13 L873.47 371.12 L874.05 371.11 L874.62 371.10 L875.19 371.10 L875.76 371.09 L876.33 371.08 L876.90 371.08 L877.47 371.07 L878.04 371.06 L878.61 371.05 L879.18 371.04 L879.75 371.03 L880.32 371.03 L880.89 371.02 L881.46 371.01 L882.03 371.00 L882.60 370.99 L883.17 370.98 L883.74 370.97 L884.31 370.96 L884.89 370.95 L885.46 370.94 L886.03 370.93 L886.60 370.92 L887.17 370.91 L887.74 370.90 L888.31 370.89 L888.88 370.88 L889.45 370.86 L890.02 370.85 L890.59 370.84 L891.16 370.83 L891.73 370.82 L892.30 370.80 L892.87 370.79 L893.44 370.78 L894.01 370.77 L894.58 370.75 L895.15 370.74 L895.73 370.72 L896.30 370.71 L896.87 370.69 L897.44 370.68 L898.01 370.66 L898.58 370.65 L899.15 370.63 L899.72 370.62 L900.29 370.60 L900.86 370.59 L901.43 370.57 L902.00 370.55 L902.57 370.53 L903.14 370.52 L903.71 370.50 L904.28 370.48 L904.85 370.46 L905.42 370.44 L905.99 370.42 L906.57 370.40 L907.14 370.38 L907.71 370.36 L908.28 370.34 L908.85 370.32 L909.42 370.30 L909.99 370.27 L910.56 370.25 L911.13 370.23 L911.70 370.21 L912.27 370.18 L912.84 370.16 L913.41 370.13 L913.98 370.11 L914.55 370.08 L915.12 370.06 L915.69 370.03 L916.26 370.00 L916.84 369.98 L917.41 369.95 L917.98 369.92 L918.55 369.89 L919.12 369.86 L919.69 369.83 L920.26 369.80 L920.83 369.77 L921.40 369.74 L921.97 369.70 L922.54 369.67 L923.11 369.64 L923.68 369.60 L924.25 369.57 L924.82 369.53 L925.39 369.50 L925.96 369.46 L926.53 369.42 L927.10 369.38 L927.68 369.34 L928.25 369.30 L928.82 369.26 L929.39 369.22 L929.96 369.18 L930.53 369.14 L931.10 369.10 L931.67 369.05 L932.24 369.01 L932.81 368.96 L933.38 368.91 L933.95 368.87 L934.52 368.82 L935.09 368.77 L935.66 368.72 L936.23 368.67 L936.80 368.62 L937.37 368.56 L937.94 368.51 L938.52 368.45 L939.09 368.40 L939.66 368.34 L940.23 368.28 L940.80 368.22 L941.37 368.16 L941.94 368.10 L942.51 368.04 L943.08 367.98 L943.65 367.91 L944.22 367.85 L944.79 367.78 L945.36 367.71 L945.93 367.64 L946.50 367.57 L947.07 367.50 L947.64 367.43 L948.21 367.35 L948.78 367.28 L949.36 367.20 L949.93 367.12 L950.50 367.04 L951.07 366.96 L951.64 366.88 L952.21 366.79 L952.78 366.71 L953.35 366.62 L953.92 366.53 L954.49 366.44 L955.06 366.35 L955.63 366.25 L956.20 366.16 L956.77 366.06 L957.34 365.96 L957.91 365.86 L958.48 365.75 L959.05 365.65 L959.62 365.54 L960.20 365.43 L960.77 365.32 L961.34 365.21 L961.91 365.10 L962.48 364.98 L963.05 364.86 L963.62 364.74 L964.19 364.62 L964.76 364.49 L965.33 364.36 L965.90 364.23 L966.47 364.10 L967.04 363.97 L967.61 363.83 L968.18 363.69 L968.75 363.55 L969.32 363.40 L969.89 363.26 L970.46 363.11 L971.04 362.96 L971.61 362.80 L972.18 362.64 L972.75 362.48 L973.32 362.32 L973.89 362.15 L974.46 361.98 L975.03 361.81 L975.60 361.64 L976.17 361.46 L976.74 361.28 L977.32 361.09 L977.89 360.90 L978.46 360.71 L979.03 360.52 L979.61 360.32 L980.18 360.12 L980.76 359.91 L981.34 359.70 L981.91 359.49 L982.49 359.27 L983.07 359.05 L983.65 358.83 L984.23 358.60 L984.81 358.37 L985.39 358.13 L985.97 357.89 L986.55 357.65 L987.14 357.40 L987.72 357.15 L988.31 356.89 L988.90 356.63 L989.48 356.36 L990.07 356.09 L990.66 355.81 L991.25 355.53 L991.85 355.25 L992.44 354.96 L993.04 354.66 L993.63 354.36 L994.23 354.06 L994.83 353.75 L995.43 353.43 L996.03 353.11 L996.63 352.78 L997.23 352.45 L997.84 352.11 L998.44 351.77 L999.05 351.42 L999.66 351.06 L1000.27 350.70 L1000.88 350.33 L1001.49 349.96 L1002.11 349.58 L1002.72 349.19 L1003.34 348.80 L1003.96 348.40 L1004.58 347.99 L1005.20 347.58 L1005.82 347.16 L1006.45 346.73 L1007.07 346.29 L1007.70 345.85 L1008.33 345.40 L1008.96 344.95 L1009.59 344.48 L1010.23 344.01 L1010.86 343.53 L1011.50 343.04 L1012.14 342.55 L1012.78 342.05 L1013.42 341.53 L1014.06 341.02 L1014.71 340.49 L1015.35 339.95 L1016.00 339.41 L1016.65 338.85 L1017.30 338.29 L1017.95 337.72 L1018.61 337.14 L1019.26 336.55 L1019.92 335.95 L1020.58 335.34 L1021.24 334.72 L1021.90 334.09 L1022.57 333.45 L1023.23 332.81 L1023.90 332.15 L1024.57 331.48 L1025.24 330.80 L1025.91 330.11 L1026.58 329.41 L1027.26 328.70 L1027.93 327.98 L1028.61 327.25 L1029.29 326.51 L1029.97 325.76 L1030.65 324.99 L1031.34 324.22 L1032.02 323.43 L1032.71 322.63 L1033.40 321.82 L1034.09 321.00 L1034.78 320.16 L1035.47 319.31 L1036.17 318.46 L1036.86 317.58 L1037.56 316.70 L1038.26 315.80 L1038.96 314.90 L1039.66 313.98 L1040.36 313.04 L1041.07 312.09 L1041.77 311.13 L1042.48 310.16 L1043.19 309.18 L1043.90 308.18 L1044.61 307.16 L1045.32 306.14 L1046.04 305.10 L1046.75 304.05 L1047.47 302.98 L1048.18 301.90 L1048.90 300.80 L1049.62 299.70 L1050.34 298.57 L1051.06 297.44 L1051.79 296.29 L1052.51 295.12 L1053.23 293.95 L1053.96 292.75 L1054.69 291.55 L1055.41 290.33 L1056.14 289.09 L1056.87 287.84 L1057.60 286.58 L1058.33 285.30 L1059.07 284.01 L1059.80 282.71 L1060.53 281.39 L1061.27 280.05 L1062.00 278.70 L1062.74 277.34 L1063.48 275.97 L1064.21 274.58 L1064.95 273.17 L1065.69 271.75 L1066.43 270.32 L1067.17 268.88 L1067.91 267.42 L1068.65 265.95 L1069.39 264.46 L1070.13 262.97 L1070.87 261.46 L1071.62 259.93 L1072.36 258.40 L1073.10 256.85 L1073.84 255.29 L1074.59 253.72 L1075.33 252.13 L1076.07 250.54 L1076.82 248.93 L1077.56 247.31 L1078.30 245.68 L1079.05 244.04 L1079.79 242.39 L1080.53 240.73 L1081.27 239.07 L1082.02 237.39 L1082.76 235.70 L1083.50 234.00 L1084.24 232.30 L1084.98 230.59 L1085.72 228.87 L1086.47 227.14 L1087.21 225.41 L1087.94 223.67 L1088.68 221.93 L1089.42 220.18 L1090.16 218.43 L1090.89 216.67 L1091.63 214.91 L1092.37 213.14 L1093.10 211.37 L1093.83 209.60 L1094.56 207.83 L1095.30 206.06 L1096.02 204.29 L1096.75 202.52 L1097.48 200.74 L1098.21 198.97 L1098.93 197.21 L1099.66 195.44 L1100.38 193.68 L1101.10 191.92 L1101.82 190.17 L1102.54 188.42 L1103.25 186.68 L1103.97 184.94 L1104.68 183.21 L1105.39 181.49 L1106.10 179.78 L1106.80 178.08 L1107.51 176.38 L1108.21 174.70 L1108.91 173.03 L1109.61 171.37 L1110.31 169.73 L1111.00 168.10 L1111.69 166.48 L1112.38 164.88 L1113.07 163.29 L1113.76 161.72 L1114.44 160.16 L1115.12 158.63 L1115.79 157.11 L1116.47 155.61 L1117.14 154.13 L1117.81 152.67 L1118.47 151.23 L1119.13 149.81 L1119.79 148.41 L1120.45 147.04 L1121.10 145.68 L1121.75 144.36 L1122.40 143.05 L1123.04 141.77 L1123.68 140.51 L1124.31 139.28 L1124.94 138.07 L1125.57 136.89 L1126.20 135.73 L1126.82 134.60 L1127.43 133.50 L1128.05 132.42 L1128.65 131.37 L1129.26 130.35 L1129.86 129.35 L1130.45 128.38 L1131.04 127.44 L1131.63 126.53 L1132.21 125.64 L1132.79 124.78 L1133.36 123.95 L1133.93 123.14 L1134.49 122.36 L1135.05 121.61 L1135.61 120.88 L1136.15 120.18 L1136.70 119.51 L1137.24 118.86 L1137.77 118.24 L1138.29 117.64 L1138.82 117.07 L1139.33 116.52 L1139.84 115.99 L1140.35 115.49 L1140.85 115.01 L1141.34 114.56 L1141.82 114.12 L1142.31 113.71 L1142.78 113.32 L1143.25 112.94 L1143.71 112.59 L1144.17 112.26 L1144.61 111.94 L1145.06 111.64 L1145.49 111.36 L1145.93 111.10 L1146.36 110.85 L1146.80 110.62 L1147.24 110.40 L1147.67 110.20 L1148.11 110.01 L1148.54 109.83 L1148.98 109.67 L1149.41 109.52 L1149.85 109.38 L1150.28 109.24 L1150.72 109.12 L1151.15 109.01 L1151.59 108.91 L1152.03 108.81 L1152.46 108.73 L1152.90 108.65 L1153.33 108.57 L1153.77 108.51 L1154.20 108.45 L1154.64 108.39 L1155.07 108.34 L1155.51 108.30 L1155.95 108.26 L1156.38 108.22 L1156.82 108.19 L1157.25 108.16 L1157.69 108.13 L1158.12 108.11 L1158.56 108.09 L1158.99 108.07 L1159.43 108.05 L1159.86 108.04 L1160.30 108.03 L1160.74 108.01 L1161.17 108.00 L1161.61 108.00 L1162.04 107.99 L1162.48 107.98" class="bl"/>
<path d="M758.75 371.17 L759.28 371.16 L760.66 371.16 L762.05 371.15 L763.43 371.15 L764.81 371.14 L766.19 371.13 L767.58 371.13 L768.96 371.12 L770.34 371.11 L771.72 371.10 L773.11 371.10 L774.49 371.09 L775.87 371.08 L777.25 371.08 L778.64 371.07 L780.02 371.06 L781.40 371.05 L782.79 371.04 L784.17 371.03 L785.55 371.03 L786.93 371.02 L788.32 371.01 L789.70 371.00 L791.08 370.99 L792.46 370.98 L793.85 370.97 L795.23 370.96 L796.61 370.95 L797.99 370.94 L799.38 370.93 L800.76 370.92 L802.14 370.91 L803.52 370.90 L804.91 370.89 L806.29 370.88 L807.67 370.86 L809.06 370.85 L810.44 370.84 L811.82 370.83 L813.20 370.82 L814.59 370.80 L815.97 370.79 L817.35 370.78 L818.73 370.77 L820.12 370.75 L821.50 370.74 L822.88 370.72 L824.26 370.71 L825.65 370.69 L827.03 370.68 L828.41 370.66 L829.79 370.65 L831.18 370.63 L832.56 370.62 L833.94 370.60 L835.32 370.59 L836.71 370.57 L838.09 370.55 L839.47 370.53 L840.86 370.52 L842.24 370.50 L843.62 370.48 L845.00 370.46 L846.39 370.44 L847.77 370.42 L849.15 370.40 L850.53 370.38 L851.92 370.36 L853.30 370.34 L854.68 370.32 L856.06 370.30 L857.45 370.27 L858.83 370.25 L860.21 370.23 L861.59 370.21 L862.98 370.18 L864.36 370.16 L865.74 370.13 L867.12 370.11 L868.51 370.08 L869.89 370.06 L871.27 370.03 L872.66 370.00 L874.04 369.98 L875.42 369.95 L876.80 369.92 L878.19 369.89 L879.57 369.86 L880.95 369.83 L882.33 369.80 L883.72 369.77 L885.10 369.74 L886.48 369.70 L887.86 369.67 L889.25 369.64 L890.63 369.60 L892.01 369.57 L893.39 369.53 L894.78 369.50 L896.16 369.46 L897.54 369.42 L898.92 369.38 L900.31 369.34 L901.69 369.30 L903.07 369.26 L904.46 369.22 L905.84 369.18 L907.22 369.14 L908.60 369.10 L909.99 369.05 L911.37 369.01 L912.75 368.96 L914.13 368.91 L915.52 368.87 L916.90 368.82 L918.28 368.77 L919.66 368.72 L921.05 368.67 L922.43 368.62 L923.81 368.56 L925.19 368.51 L926.56 368.45 L927.92 368.40 L929.26 368.34 L930.59 368.28 L931.91 368.22 L933.22 368.16 L934.52 368.10 L935.80 368.04 L937.07 367.98 L938.33 367.91 L939.58 367.85 L940.82 367.78 L942.05 367.71 L943.26 367.64 L944.47 367.57 L945.66 367.50 L946.85 367.43 L948.02 367.35 L949.19 367.28 L950.34 367.20 L951.48 367.12 L952.61 367.04 L953.74 366.96 L954.85 366.88 L955.95 366.79 L957.05 366.71 L958.13 366.62 L959.21 366.53 L960.28 366.44 L961.33 366.35 L962.38 366.25 L963.42 366.16 L964.45 366.06 L965.47 365.96 L966.49 365.86 L967.49 365.75 L968.49 365.65 L969.48 365.54 L970.46 365.43 L971.44 365.32 L972.40 365.21 L973.36 365.10 L974.31 364.98 L975.25 364.86 L976.19 364.74 L977.12 364.62 L978.04 364.49 L978.95 364.36 L979.86 364.23 L980.76 364.10 L981.65 363.97 L982.54 363.83 L983.42 363.69 L984.30 363.55 L985.16 363.40 L986.03 363.26 L986.88 363.11 L987.73 362.96 L988.57 362.80 L989.41 362.64 L990.24 362.48 L991.07 362.32 L991.89 362.15 L992.71 361.98 L993.52 361.81 L994.32 361.64 L995.12 361.46 L995.91 361.28 L996.70 361.09 L997.49 360.90 L998.27 360.71 L999.04 360.52 L999.81 360.32 L1000.58 360.12 L1001.34 359.91 L1002.09 359.70 L1002.85 359.49 L1003.59 359.27 L1004.34 359.05 L1005.08 358.83 L1005.81 358.60 L1006.55 358.37 L1007.27 358.13 L1008.00 357.89 L1008.72 357.65 L1009.44 357.40 L1010.15 357.15 L1010.86 356.89 L1011.57 356.63 L1012.27 356.36 L1012.97 356.09 L1013.67 355.81 L1014.36 355.53 L1015.05 355.25 L1015.74 354.96 L1016.43 354.66 L1017.11 354.36 L1017.79 354.06 L1018.47 353.75 L1019.14 353.43 L1019.81 353.11 L1020.48 352.78 L1021.15 352.45 L1021.82 352.11 L1022.48 351.77 L1023.14 351.42 L1023.80 351.06 L1024.45 350.70 L1025.11 350.33 L1025.76 349.96 L1026.41 349.58 L1027.06 349.19 L1027.71 348.80 L1028.35 348.40 L1029.00 347.99 L1029.64 347.58 L1030.28 347.16 L1030.92 346.73 L1031.56 346.29 L1032.19 345.85 L1032.83 345.40 L1033.46 344.95 L1034.10 344.48 L1034.73 344.01 L1035.36 343.53 L1035.99 343.04 L1036.62 342.55 L1037.24 342.05 L1037.87 341.53 L1038.50 341.02 L1039.12 340.49 L1039.75 339.95 L1040.37 339.41 L1040.99 338.85 L1041.61 338.29 L1042.24 337.72 L1042.86 337.14 L1043.48 336.55 L1044.10 335.95 L1044.72 335.34 L1045.34 334.72 L1045.96 334.09 L1046.58 333.45 L1047.20 332.81 L1047.81 332.15 L1048.43 331.48 L1049.05 330.80 L1049.67 330.11 L1050.29 329.41 L1050.90 328.70 L1051.52 327.98 L1052.14 327.25 L1052.76 326.51 L1053.38 325.76 L1053.99 324.99 L1054.61 324.22 L1055.23 323.43 L1055.85 322.63 L1056.47 321.82 L1057.09 321.00 L1057.71 320.16 L1058.33 319.31 L1058.95 318.46 L1059.57 317.58 L1060.19 316.70 L1060.81 315.80 L1061.43 314.90 L1062.06 313.98 L1062.68 313.04 L1063.30 312.09 L1063.93 311.13 L1064.55 310.16 L1065.18 309.18 L1065.80 308.18 L1066.43 307.16 L1067.05 306.14 L1067.68 305.10 L1068.31 304.05 L1068.94 302.98 L1069.57 301.90 L1070.20 300.80 L1070.83 299.70 L1071.46 298.57 L1072.09 297.44 L1072.72 296.29 L1073.36 295.12 L1073.99 293.95 L1074.63 292.75 L1075.26 291.55 L1075.90 290.33 L1076.54 289.09 L1077.17 287.84 L1077.81 286.58 L1078.45 285.30 L1079.09 284.01 L1079.73 282.71 L1080.38 281.39 L1081.02 280.05 L1081.66 278.70 L1082.31 277.34 L1082.95 275.97 L1083.60 274.58 L1084.24 273.17 L1084.89 271.75 L1085.54 270.32 L1086.19 268.88 L1086.84 267.42 L1087.49 265.95 L1088.14 264.46 L1088.79 262.97 L1089.44 261.46 L1090.09 259.93 L1090.75 258.40 L1091.40 256.85 L1092.06 255.29 L1092.71 253.72 L1093.37 252.13 L1094.03 250.54 L1094.69 248.93 L1095.34 247.31 L1096.00 245.68 L1096.66 244.04 L1097.32 242.39 L1097.98 240.73 L1098.65 239.07 L1099.31 237.39 L1099.97 235.70 L1100.63 234.00 L1101.30 232.30 L1101.96 230.59 L1102.62 228.87 L1103.29 227.14 L1103.95 225.41 L1104.62 223.67 L1105.28 221.93 L1105.95 220.18 L1106.62 218.43 L1107.28 216.67 L1107.95 214.91 L1108.61 213.14 L1109.28 211.37 L1109.95 209.60 L1110.62 207.83 L1111.28 206.06 L1111.95 204.29 L1112.62 202.52 L1113.28 200.74 L1113.95 198.97 L1114.62 197.21 L1115.28 195.44 L1115.95 193.68 L1116.62 191.92 L1117.28 190.17 L1117.95 188.42 L1118.62 186.68 L1119.28 184.94 L1119.95 183.21 L1120.61 181.49 L1121.27 179.78 L1121.94 178.08 L1122.60 176.38 L1123.26 174.70 L1123.92 173.03 L1124.58 171.37 L1125.24 169.73 L1125.90 168.10 L1126.56 166.48 L1127.22 164.88 L1127.87 163.29 L1128.53 161.72 L1129.18 160.16 L1129.84 158.63 L1130.49 157.11 L1131.14 155.61 L1131.79 154.13 L1132.44 152.67 L1133.09 151.23 L1133.73 149.81 L1134.38 148.41 L1135.02 147.04 L1135.66 145.68 L1136.30 144.36 L1136.94 143.05 L1137.57 141.77 L1138.21 140.51 L1138.84 139.28 L1139.47 138.07 L1140.10 136.89 L1140.73 135.73 L1141.35 134.60 L1141.97 133.50 L1142.59 132.42 L1143.21 131.37 L1143.83 130.35 L1144.44 129.35 L1145.05 128.38 L1145.66 127.44 L1146.26 126.53 L1146.86 125.64 L1147.46 124.78 L1148.06 123.95 L1148.65 123.14 L1149.24 122.36 L1149.83 121.61 L1150.42 120.88 L1151.00 120.18 L1151.58 119.51 L1152.15 118.86 L1152.72 118.24 L1153.29 117.64 L1153.85 117.07 L1154.41 116.52 L1154.97 115.99 L1155.52 115.49 L1156.07 115.01 L1156.62 114.56 L1157.16 114.12 L1157.70 113.71 L1158.23 113.32 L1158.76 112.94 L1159.28 112.59 L1159.80 112.26 L1160.31 111.94 L1160.82 111.64 L1161.33 111.36 L1161.83 111.10 L1162.33 110.85 L1162.82 110.62 L1163.30 110.40 L1163.78 110.20 L1164.26 110.01 L1164.73 109.83 L1165.19 109.67 L1165.65 109.52 L1166.10 109.38 L1166.55 109.24 L1166.99 109.12 L1167.43 109.01 L1167.86 108.91 L1168.30 108.81 L1168.74 108.73 L1169.18 108.65 L1169.61 108.57 L1170.05 108.51 L1170.49 108.45 L1170.92 108.39 L1171.36 108.34 L1171.80 108.30 L1172.24 108.26 L1172.67 108.22 L1173.11 108.19 L1173.55 108.16 L1173.98 108.13 L1174.42 108.11 L1174.86 108.09 L1175.29 108.07 L1175.73 108.05 L1176.17 108.04 L1176.61 108.03 L1177.04 108.01 L1177.48 108.00 L1177.92 108.00 L1178.35 107.99 L1178.79 107.98" class="bl"/>
<path d="M1086.15 107.69 L1286.25 107.69" class="bl" style="stroke-width:1.35"/>
</g></g>
</svg>
</body></html>
